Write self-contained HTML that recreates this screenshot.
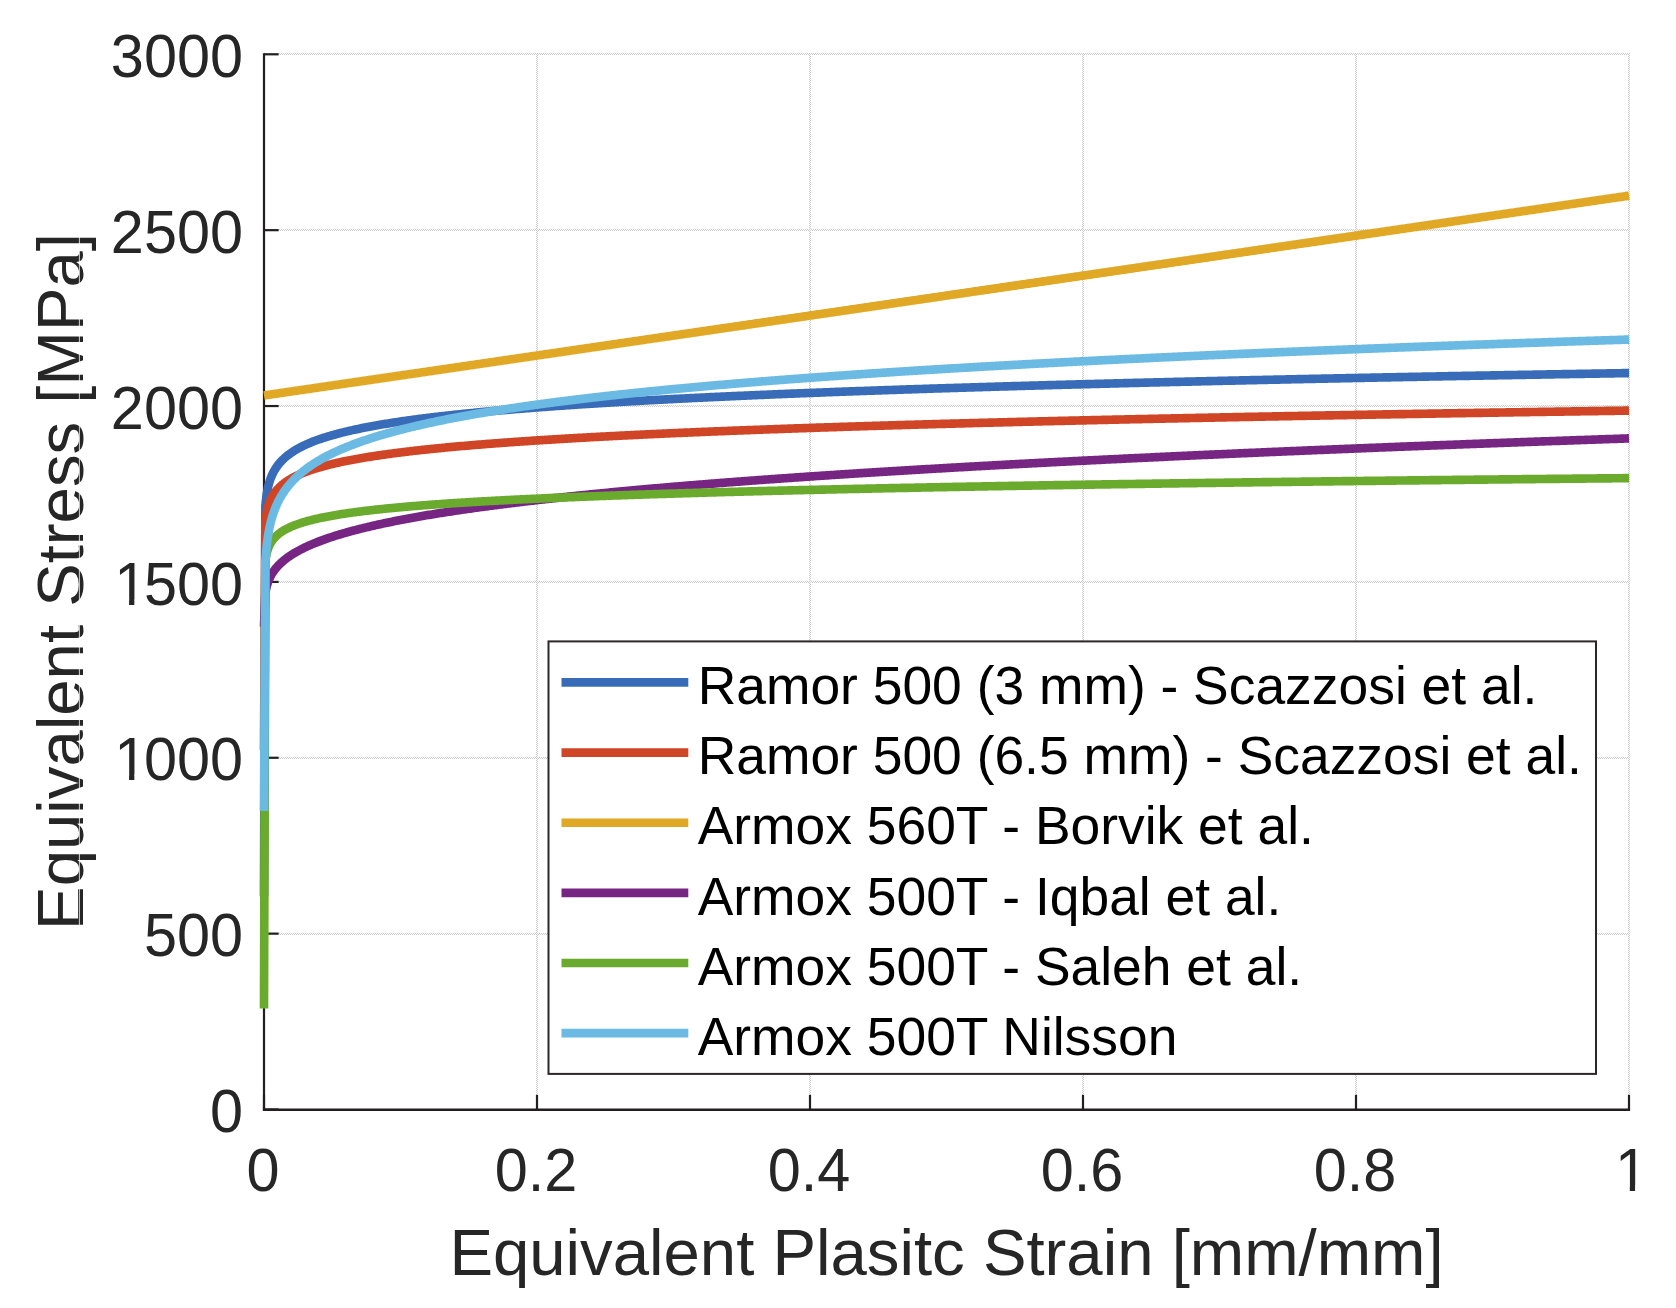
<!DOCTYPE html>
<html lang="en"><head><meta charset="utf-8"><title>Equivalent Stress vs Equivalent Plastic Strain</title>
<style>html,body{margin:0;padding:0;background:#fff;}svg{display:block;}text{font-family:"Liberation Sans",Arial,Helvetica,sans-serif;}</style></head><body>
<svg width="1676" height="1308" viewBox="0 0 1676 1308">
<rect x="0" y="0" width="1676" height="1308" fill="#ffffff"/>
<defs><clipPath id="plotclip"><rect x="255" y="40" width="1390" height="1080"/></clipPath></defs>
<defs><pattern id="dither" patternUnits="userSpaceOnUse" x="0" y="0" width="2" height="2"><rect x="0" y="0" width="1" height="1" fill="#cccccc"/><rect x="1" y="1" width="1" height="1" fill="#cccccc"/></pattern></defs>
<g fill="url(#dither)" shape-rendering="crispEdges">
<rect x="536" y="53" width="2" height="1057"/>
<rect x="809" y="53" width="2" height="1057"/>
<rect x="1082" y="53" width="2" height="1057"/>
<rect x="1355" y="53" width="2" height="1057"/>
<rect x="1628" y="53" width="2" height="1057"/>
<rect x="264" y="933" width="1366" height="2"/>
<rect x="264" y="757" width="1366" height="2"/>
<rect x="264" y="581" width="1366" height="2"/>
<rect x="264" y="405" width="1366" height="2"/>
<rect x="264" y="229" width="1366" height="2"/>
<rect x="264" y="53" width="1366" height="2"/>
</g>
<g stroke="#231f20" stroke-width="2.2" fill="none" stroke-linecap="butt">
<path d="M264.00,53.20 L264.00,1110.60"/>
<path stroke-width="2.5" d="M262.90,1109.65 L1630.10,1109.65"/>
<line x1="264.00" y1="1109.50" x2="264.00" y2="1094.85"/>
<line x1="537.00" y1="1109.50" x2="537.00" y2="1094.85"/>
<line x1="810.00" y1="1109.50" x2="810.00" y2="1094.85"/>
<line x1="1083.00" y1="1109.50" x2="1083.00" y2="1094.85"/>
<line x1="1356.00" y1="1109.50" x2="1356.00" y2="1094.85"/>
<line x1="1629.00" y1="1109.50" x2="1629.00" y2="1094.85"/>
<line x1="264.00" y1="1109.50" x2="278.65" y2="1109.50"/>
<line x1="264.00" y1="933.63" x2="278.65" y2="933.63"/>
<line x1="264.00" y1="757.77" x2="278.65" y2="757.77"/>
<line x1="264.00" y1="581.90" x2="278.65" y2="581.90"/>
<line x1="264.00" y1="406.03" x2="278.65" y2="406.03"/>
<line x1="264.00" y1="230.17" x2="278.65" y2="230.17"/>
<line x1="264.00" y1="54.30" x2="278.65" y2="54.30"/>
</g>
<g clip-path="url(#plotclip)" fill="none" stroke-width="8.65" stroke-linejoin="round" stroke-linecap="butt">
<path stroke="#386cb8" d="M264.00,896.35 L265.37,505.42 L266.73,493.81 L268.10,486.86 L269.46,481.86 L270.82,477.94 L272.19,474.71 L273.56,471.95 L274.92,469.56 L276.29,467.43 L277.65,465.52 L279.01,463.78 L280.38,462.19 L281.75,460.72 L283.11,459.35 L284.48,458.08 L285.84,456.88 L287.20,455.76 L288.57,454.69 L289.94,453.68 L291.30,452.73 L292.67,451.81 L294.03,450.94 L295.39,450.10 L296.76,449.30 L298.12,448.53 L299.49,447.79 L300.86,447.07 L302.22,446.38 L303.58,445.71 L304.95,445.07 L306.31,444.44 L307.68,443.84 L309.05,443.25 L310.41,442.68 L311.77,442.12 L313.14,441.58 L314.50,441.05 L315.87,440.54 L317.24,440.04 L318.60,439.55 L319.97,439.08 L321.33,438.61 L322.69,438.16 L324.06,437.71 L325.43,437.28 L326.79,436.85 L328.15,436.43 L329.52,436.03 L330.88,435.62 L332.25,435.23 L333.62,434.85 L334.98,434.47 L336.35,434.10 L337.71,433.73 L339.07,433.37 L340.44,433.02 L341.81,432.67 L343.17,432.33 L344.54,432.00 L345.90,431.67 L347.26,431.34 L348.63,431.03 L350.00,430.71 L351.36,430.40 L352.73,430.10 L354.09,429.80 L355.46,429.50 L356.82,429.21 L358.19,428.92 L359.55,428.64 L360.92,428.36 L362.28,428.08 L363.64,427.81 L365.01,427.54 L366.38,427.27 L367.74,427.01 L369.11,426.75 L370.47,426.49 L371.84,426.24 L373.20,425.99 L374.56,425.75 L375.93,425.50 L377.30,425.26 L378.66,425.02 L380.02,424.79 L381.39,424.55 L382.75,424.32 L384.12,424.10 L385.49,423.87 L386.85,423.65 L388.22,423.43 L389.58,423.21 L390.94,422.99 L392.31,422.78 L393.68,422.57 L395.04,422.36 L396.40,422.15 L397.77,421.95 L399.13,421.74 L400.50,421.54 L401.87,421.34 L403.23,421.14 L404.60,420.95 L405.96,420.75 L407.33,420.56 L408.69,420.37 L410.06,420.18 L411.42,420.00 L412.78,419.81 L414.15,419.63 L415.51,419.44 L416.88,419.26 L418.25,419.08 L419.61,418.91 L420.98,418.73 L422.34,418.56 L423.71,418.38 L425.07,418.21 L426.44,418.04 L427.80,417.87 L429.16,417.70 L430.53,417.54 L431.89,417.37 L433.26,417.21 L434.62,417.05 L435.99,416.89 L437.36,416.73 L438.72,416.57 L440.09,416.41 L441.45,416.25 L442.81,416.10 L444.18,415.94 L445.55,415.79 L446.91,415.64 L448.27,415.49 L449.64,415.34 L451.00,415.19 L452.37,415.04 L453.74,414.89 L455.10,414.75 L456.47,414.60 L457.83,414.46 L459.20,414.32 L460.56,414.18 L461.93,414.04 L463.29,413.90 L464.65,413.76 L466.02,413.62 L467.38,413.48 L468.75,413.34 L470.12,413.21 L471.48,413.07 L472.85,412.94 L474.21,412.81 L475.57,412.68 L476.94,412.54 L478.31,412.41 L479.67,412.28 L481.03,412.16 L482.40,412.03 L483.76,411.90 L485.13,411.77 L486.50,411.65 L487.86,411.52 L489.23,411.40 L490.59,411.27 L491.96,411.15 L493.32,411.03 L494.69,410.91 L496.05,410.79 L497.42,410.67 L498.78,410.55 L500.14,410.43 L501.51,410.31 L502.88,410.19 L504.24,410.07 L505.61,409.96 L506.97,409.84 L508.33,409.73 L509.70,409.61 L511.06,409.50 L512.43,409.39 L513.79,409.27 L515.16,409.16 L516.52,409.05 L517.89,408.94 L519.25,408.83 L520.62,408.72 L521.99,408.61 L523.35,408.50 L524.72,408.39 L526.08,408.29 L527.44,408.18 L528.81,408.07 L530.17,407.97 L531.54,407.86 L532.90,407.76 L534.27,407.65 L535.63,407.55 L537.00,407.44 L538.37,407.34 L539.73,407.24 L541.10,407.14 L542.46,407.03 L543.83,406.93 L545.19,406.83 L546.56,406.73 L547.92,406.63 L549.29,406.53 L550.65,406.44 L552.01,406.34 L553.38,406.24 L554.75,406.14 L556.11,406.05 L557.48,405.95 L558.84,405.85 L560.20,405.76 L561.57,405.66 L562.93,405.57 L564.30,405.47 L565.66,405.38 L567.03,405.29 L568.39,405.19 L569.76,405.10 L571.12,405.01 L572.49,404.91 L573.86,404.82 L575.22,404.73 L576.59,404.64 L577.95,404.55 L579.32,404.46 L580.68,404.37 L582.05,404.28 L583.41,404.19 L584.78,404.10 L586.14,404.02 L587.50,403.93 L588.87,403.84 L590.24,403.75 L591.60,403.67 L592.96,403.58 L594.33,403.49 L595.69,403.41 L597.06,403.32 L598.42,403.24 L599.79,403.15 L601.15,403.07 L602.52,402.98 L603.88,402.90 L605.25,402.82 L606.62,402.73 L607.98,402.65 L609.35,402.57 L610.71,402.49 L612.08,402.40 L613.44,402.32 L614.81,402.24 L616.17,402.16 L617.54,402.08 L618.90,402.00 L620.26,401.92 L621.63,401.84 L623.00,401.76 L624.36,401.68 L625.73,401.60 L627.09,401.52 L628.46,401.44 L629.82,401.37 L631.18,401.29 L632.55,401.21 L633.91,401.13 L635.28,401.06 L636.64,400.98 L638.01,400.90 L639.38,400.83 L640.74,400.75 L642.11,400.68 L643.47,400.60 L644.84,400.53 L646.20,400.45 L647.57,400.38 L648.93,400.30 L650.30,400.23 L651.66,400.15 L653.03,400.08 L654.39,400.01 L655.76,399.93 L657.12,399.86 L658.49,399.79 L659.85,399.72 L661.21,399.64 L662.58,399.57 L663.94,399.50 L665.31,399.43 L666.67,399.36 L668.04,399.29 L669.40,399.22 L670.77,399.14 L672.13,399.07 L673.50,399.00 L674.87,398.93 L676.23,398.86 L677.60,398.80 L678.96,398.73 L680.33,398.66 L681.69,398.59 L683.06,398.52 L684.42,398.45 L685.78,398.38 L687.15,398.32 L688.51,398.25 L689.88,398.18 L691.25,398.11 L692.61,398.05 L693.98,397.98 L695.34,397.91 L696.70,397.85 L698.07,397.78 L699.43,397.71 L700.80,397.65 L702.16,397.58 L703.53,397.52 L704.89,397.45 L706.26,397.39 L707.62,397.32 L708.99,397.26 L710.36,397.19 L711.72,397.13 L713.09,397.06 L714.45,397.00 L715.82,396.94 L717.18,396.87 L718.55,396.81 L719.91,396.75 L721.28,396.68 L722.64,396.62 L724.01,396.56 L725.37,396.49 L726.74,396.43 L728.10,396.37 L729.47,396.31 L730.83,396.25 L732.20,396.18 L733.56,396.12 L734.92,396.06 L736.29,396.00 L737.65,395.94 L739.02,395.88 L740.38,395.82 L741.75,395.76 L743.12,395.70 L744.48,395.64 L745.85,395.58 L747.21,395.52 L748.58,395.46 L749.94,395.40 L751.30,395.34 L752.67,395.28 L754.03,395.22 L755.40,395.16 L756.76,395.10 L758.13,395.04 L759.50,394.99 L760.86,394.93 L762.22,394.87 L763.59,394.81 L764.95,394.75 L766.32,394.70 L767.68,394.64 L769.05,394.58 L770.41,394.52 L771.78,394.47 L773.14,394.41 L774.51,394.35 L775.88,394.30 L777.24,394.24 L778.61,394.18 L779.97,394.13 L781.34,394.07 L782.70,394.02 L784.07,393.96 L785.43,393.91 L786.79,393.85 L788.16,393.79 L789.52,393.74 L790.89,393.68 L792.25,393.63 L793.62,393.57 L794.99,393.52 L796.35,393.47 L797.72,393.41 L799.08,393.36 L800.45,393.30 L801.81,393.25 L803.18,393.20 L804.54,393.14 L805.90,393.09 L807.27,393.03 L808.63,392.98 L810.00,392.93 L811.37,392.87 L812.73,392.82 L814.10,392.77 L815.46,392.72 L816.83,392.66 L818.19,392.61 L819.56,392.56 L820.92,392.51 L822.29,392.45 L823.65,392.40 L825.02,392.35 L826.38,392.30 L827.75,392.25 L829.11,392.20 L830.48,392.15 L831.84,392.09 L833.21,392.04 L834.57,391.99 L835.93,391.94 L837.30,391.89 L838.66,391.84 L840.03,391.79 L841.39,391.74 L842.76,391.69 L844.12,391.64 L845.49,391.59 L846.86,391.54 L848.22,391.49 L849.59,391.44 L850.95,391.39 L852.31,391.34 L853.68,391.29 L855.04,391.24 L856.41,391.19 L857.77,391.14 L859.14,391.09 L860.50,391.04 L861.87,391.00 L863.24,390.95 L864.60,390.90 L865.97,390.85 L867.33,390.80 L868.70,390.75 L870.06,390.71 L871.42,390.66 L872.79,390.61 L874.15,390.56 L875.52,390.51 L876.88,390.47 L878.25,390.42 L879.62,390.37 L880.98,390.32 L882.35,390.28 L883.71,390.23 L885.08,390.18 L886.44,390.14 L887.81,390.09 L889.17,390.04 L890.54,390.00 L891.90,389.95 L893.26,389.90 L894.63,389.86 L896.00,389.81 L897.36,389.76 L898.73,389.72 L900.09,389.67 L901.46,389.63 L902.82,389.58 L904.19,389.54 L905.55,389.49 L906.92,389.44 L908.28,389.40 L909.65,389.35 L911.01,389.31 L912.38,389.26 L913.74,389.22 L915.11,389.17 L916.47,389.13 L917.84,389.08 L919.20,389.04 L920.56,388.99 L921.93,388.95 L923.29,388.91 L924.66,388.86 L926.02,388.82 L927.39,388.77 L928.75,388.73 L930.12,388.68 L931.49,388.64 L932.85,388.60 L934.22,388.55 L935.58,388.51 L936.94,388.47 L938.31,388.42 L939.67,388.38 L941.04,388.34 L942.40,388.29 L943.77,388.25 L945.13,388.21 L946.50,388.16 L947.87,388.12 L949.23,388.08 L950.60,388.04 L951.96,387.99 L953.33,387.95 L954.69,387.91 L956.06,387.87 L957.42,387.82 L958.78,387.78 L960.15,387.74 L961.51,387.70 L962.88,387.65 L964.25,387.61 L965.61,387.57 L966.98,387.53 L968.34,387.49 L969.71,387.45 L971.07,387.40 L972.44,387.36 L973.80,387.32 L975.17,387.28 L976.53,387.24 L977.89,387.20 L979.26,387.16 L980.62,387.12 L981.99,387.08 L983.36,387.03 L984.72,386.99 L986.09,386.95 L987.45,386.91 L988.82,386.87 L990.18,386.83 L991.55,386.79 L992.91,386.75 L994.28,386.71 L995.64,386.67 L997.00,386.63 L998.37,386.59 L999.74,386.55 L1001.10,386.51 L1002.47,386.47 L1003.83,386.43 L1005.20,386.39 L1006.56,386.35 L1007.93,386.31 L1009.29,386.27 L1010.66,386.23 L1012.02,386.19 L1013.39,386.15 L1014.75,386.12 L1016.12,386.08 L1017.48,386.04 L1018.85,386.00 L1020.21,385.96 L1021.58,385.92 L1022.94,385.88 L1024.31,385.84 L1025.67,385.80 L1027.04,385.77 L1028.40,385.73 L1029.77,385.69 L1031.13,385.65 L1032.50,385.61 L1033.86,385.57 L1035.22,385.54 L1036.59,385.50 L1037.95,385.46 L1039.32,385.42 L1040.68,385.38 L1042.05,385.35 L1043.41,385.31 L1044.78,385.27 L1046.14,385.23 L1047.51,385.19 L1048.88,385.16 L1050.24,385.12 L1051.61,385.08 L1052.97,385.04 L1054.34,385.01 L1055.70,384.97 L1057.07,384.93 L1058.43,384.90 L1059.80,384.86 L1061.16,384.82 L1062.53,384.78 L1063.89,384.75 L1065.26,384.71 L1066.62,384.67 L1067.98,384.64 L1069.35,384.60 L1070.71,384.56 L1072.08,384.53 L1073.44,384.49 L1074.81,384.46 L1076.17,384.42 L1077.54,384.38 L1078.90,384.35 L1080.27,384.31 L1081.63,384.27 L1083.00,384.24 L1084.37,384.20 L1085.73,384.17 L1087.10,384.13 L1088.46,384.09 L1089.82,384.06 L1091.19,384.02 L1092.55,383.99 L1093.92,383.95 L1095.28,383.92 L1096.65,383.88 L1098.01,383.85 L1099.38,383.81 L1100.74,383.77 L1102.11,383.74 L1103.47,383.70 L1104.84,383.67 L1106.20,383.63 L1107.57,383.60 L1108.93,383.56 L1110.30,383.53 L1111.66,383.49 L1113.03,383.46 L1114.39,383.42 L1115.76,383.39 L1117.12,383.35 L1118.49,383.32 L1119.86,383.29 L1121.22,383.25 L1122.59,383.22 L1123.95,383.18 L1125.32,383.15 L1126.68,383.11 L1128.05,383.08 L1129.41,383.05 L1130.78,383.01 L1132.14,382.98 L1133.51,382.94 L1134.87,382.91 L1136.24,382.87 L1137.60,382.84 L1138.97,382.81 L1140.33,382.77 L1141.70,382.74 L1143.06,382.71 L1144.43,382.67 L1145.79,382.64 L1147.15,382.61 L1148.52,382.57 L1149.88,382.54 L1151.25,382.50 L1152.62,382.47 L1153.98,382.44 L1155.35,382.40 L1156.71,382.37 L1158.08,382.34 L1159.44,382.31 L1160.81,382.27 L1162.17,382.24 L1163.54,382.21 L1164.90,382.17 L1166.27,382.14 L1167.63,382.11 L1168.99,382.08 L1170.36,382.04 L1171.72,382.01 L1173.09,381.98 L1174.45,381.94 L1175.82,381.91 L1177.18,381.88 L1178.55,381.85 L1179.91,381.81 L1181.28,381.78 L1182.64,381.75 L1184.01,381.72 L1185.38,381.69 L1186.74,381.65 L1188.11,381.62 L1189.47,381.59 L1190.84,381.56 L1192.20,381.53 L1193.57,381.49 L1194.93,381.46 L1196.30,381.43 L1197.66,381.40 L1199.03,381.37 L1200.39,381.33 L1201.76,381.30 L1203.12,381.27 L1204.49,381.24 L1205.85,381.21 L1207.22,381.18 L1208.58,381.14 L1209.95,381.11 L1211.31,381.08 L1212.68,381.05 L1214.04,381.02 L1215.41,380.99 L1216.77,380.96 L1218.14,380.93 L1219.50,380.89 L1220.87,380.86 L1222.23,380.83 L1223.60,380.80 L1224.96,380.77 L1226.32,380.74 L1227.69,380.71 L1229.05,380.68 L1230.42,380.65 L1231.78,380.62 L1233.15,380.59 L1234.51,380.56 L1235.88,380.52 L1237.24,380.49 L1238.61,380.46 L1239.97,380.43 L1241.34,380.40 L1242.70,380.37 L1244.07,380.34 L1245.43,380.31 L1246.80,380.28 L1248.16,380.25 L1249.53,380.22 L1250.89,380.19 L1252.26,380.16 L1253.62,380.13 L1254.99,380.10 L1256.36,380.07 L1257.72,380.04 L1259.09,380.01 L1260.45,379.98 L1261.82,379.95 L1263.18,379.92 L1264.55,379.89 L1265.91,379.86 L1267.28,379.83 L1268.64,379.80 L1270.01,379.77 L1271.37,379.74 L1272.74,379.71 L1274.10,379.68 L1275.47,379.66 L1276.83,379.63 L1278.19,379.60 L1279.56,379.57 L1280.92,379.54 L1282.29,379.51 L1283.65,379.48 L1285.02,379.45 L1286.38,379.42 L1287.75,379.39 L1289.12,379.36 L1290.48,379.33 L1291.85,379.30 L1293.21,379.28 L1294.58,379.25 L1295.94,379.22 L1297.31,379.19 L1298.67,379.16 L1300.04,379.13 L1301.40,379.10 L1302.77,379.07 L1304.13,379.05 L1305.50,379.02 L1306.86,378.99 L1308.22,378.96 L1309.59,378.93 L1310.95,378.90 L1312.32,378.87 L1313.68,378.85 L1315.05,378.82 L1316.41,378.79 L1317.78,378.76 L1319.14,378.73 L1320.51,378.70 L1321.88,378.68 L1323.24,378.65 L1324.61,378.62 L1325.97,378.59 L1327.34,378.56 L1328.70,378.54 L1330.07,378.51 L1331.43,378.48 L1332.80,378.45 L1334.16,378.42 L1335.53,378.40 L1336.89,378.37 L1338.26,378.34 L1339.62,378.31 L1340.99,378.28 L1342.35,378.26 L1343.72,378.23 L1345.08,378.20 L1346.45,378.17 L1347.81,378.15 L1349.17,378.12 L1350.54,378.09 L1351.90,378.06 L1353.27,378.04 L1354.63,378.01 L1356.00,377.98 L1357.37,377.95 L1358.73,377.93 L1360.10,377.90 L1361.46,377.87 L1362.83,377.85 L1364.19,377.82 L1365.56,377.79 L1366.92,377.76 L1368.29,377.74 L1369.65,377.71 L1371.02,377.68 L1372.38,377.66 L1373.75,377.63 L1375.11,377.60 L1376.48,377.57 L1377.84,377.55 L1379.21,377.52 L1380.57,377.49 L1381.94,377.47 L1383.30,377.44 L1384.67,377.41 L1386.03,377.39 L1387.39,377.36 L1388.76,377.33 L1390.12,377.31 L1391.49,377.28 L1392.86,377.25 L1394.22,377.23 L1395.59,377.20 L1396.95,377.18 L1398.32,377.15 L1399.68,377.12 L1401.05,377.10 L1402.41,377.07 L1403.77,377.04 L1405.14,377.02 L1406.50,376.99 L1407.87,376.97 L1409.23,376.94 L1410.60,376.91 L1411.96,376.89 L1413.33,376.86 L1414.69,376.83 L1416.06,376.81 L1417.42,376.78 L1418.79,376.76 L1420.15,376.73 L1421.52,376.70 L1422.88,376.68 L1424.25,376.65 L1425.62,376.63 L1426.98,376.60 L1428.35,376.58 L1429.71,376.55 L1431.08,376.52 L1432.44,376.50 L1433.81,376.47 L1435.17,376.45 L1436.54,376.42 L1437.90,376.40 L1439.26,376.37 L1440.63,376.35 L1441.99,376.32 L1443.36,376.29 L1444.72,376.27 L1446.09,376.24 L1447.45,376.22 L1448.82,376.19 L1450.18,376.17 L1451.55,376.14 L1452.91,376.12 L1454.28,376.09 L1455.64,376.07 L1457.01,376.04 L1458.38,376.02 L1459.74,375.99 L1461.11,375.97 L1462.47,375.94 L1463.84,375.92 L1465.20,375.89 L1466.57,375.87 L1467.93,375.84 L1469.30,375.82 L1470.66,375.79 L1472.03,375.77 L1473.39,375.74 L1474.76,375.72 L1476.12,375.69 L1477.49,375.67 L1478.85,375.64 L1480.21,375.62 L1481.58,375.59 L1482.94,375.57 L1484.31,375.54 L1485.67,375.52 L1487.04,375.50 L1488.40,375.47 L1489.77,375.45 L1491.13,375.42 L1492.50,375.40 L1493.87,375.37 L1495.23,375.35 L1496.60,375.32 L1497.96,375.30 L1499.33,375.28 L1500.69,375.25 L1502.06,375.23 L1503.42,375.20 L1504.79,375.18 L1506.15,375.15 L1507.52,375.13 L1508.88,375.11 L1510.25,375.08 L1511.61,375.06 L1512.98,375.03 L1514.34,375.01 L1515.71,374.99 L1517.07,374.96 L1518.43,374.94 L1519.80,374.91 L1521.16,374.89 L1522.53,374.87 L1523.89,374.84 L1525.26,374.82 L1526.62,374.80 L1527.99,374.77 L1529.36,374.75 L1530.72,374.72 L1532.09,374.70 L1533.45,374.68 L1534.82,374.65 L1536.18,374.63 L1537.55,374.61 L1538.91,374.58 L1540.28,374.56 L1541.64,374.53 L1543.01,374.51 L1544.37,374.49 L1545.74,374.46 L1547.10,374.44 L1548.47,374.42 L1549.83,374.39 L1551.20,374.37 L1552.56,374.35 L1553.93,374.32 L1555.29,374.30 L1556.66,374.28 L1558.02,374.25 L1559.38,374.23 L1560.75,374.21 L1562.12,374.18 L1563.48,374.16 L1564.85,374.14 L1566.21,374.12 L1567.58,374.09 L1568.94,374.07 L1570.31,374.05 L1571.67,374.02 L1573.04,374.00 L1574.40,373.98 L1575.76,373.95 L1577.13,373.93 L1578.49,373.91 L1579.86,373.89 L1581.22,373.86 L1582.59,373.84 L1583.95,373.82 L1585.32,373.79 L1586.68,373.77 L1588.05,373.75 L1589.41,373.73 L1590.78,373.70 L1592.14,373.68 L1593.51,373.66 L1594.88,373.63 L1596.24,373.61 L1597.61,373.59 L1598.97,373.57 L1600.34,373.54 L1601.70,373.52 L1603.07,373.50 L1604.43,373.48 L1605.80,373.45 L1607.16,373.43 L1608.53,373.41 L1609.89,373.39 L1611.25,373.36 L1612.62,373.34 L1613.98,373.32 L1615.35,373.30 L1616.71,373.28 L1618.08,373.25 L1619.44,373.23 L1620.81,373.21 L1622.17,373.19 L1623.54,373.16 L1624.90,373.14 L1626.27,373.12 L1627.63,373.10 L1629.00,373.08"/>
<path stroke="#d04526" d="M264.00,749.68 L265.37,521.28 L266.73,512.04 L268.10,506.47 L269.46,502.43 L270.82,499.26 L272.19,496.63 L273.56,494.39 L274.92,492.43 L276.29,490.69 L277.65,489.13 L279.01,487.70 L280.38,486.40 L281.75,485.19 L283.11,484.06 L284.48,483.01 L285.84,482.03 L287.20,481.10 L288.57,480.22 L289.94,479.38 L291.30,478.59 L292.67,477.83 L294.03,477.11 L295.39,476.41 L296.76,475.75 L298.12,475.11 L299.49,474.49 L300.86,473.90 L302.22,473.32 L303.58,472.77 L304.95,472.23 L306.31,471.71 L307.68,471.20 L309.05,470.71 L310.41,470.24 L311.77,469.77 L313.14,469.32 L314.50,468.88 L315.87,468.45 L317.24,468.03 L318.60,467.63 L319.97,467.23 L321.33,466.84 L322.69,466.46 L324.06,466.08 L325.43,465.72 L326.79,465.36 L328.15,465.01 L329.52,464.67 L330.88,464.33 L332.25,464.00 L333.62,463.68 L334.98,463.36 L336.35,463.05 L337.71,462.74 L339.07,462.44 L340.44,462.14 L341.81,461.85 L343.17,461.57 L344.54,461.28 L345.90,461.01 L347.26,460.73 L348.63,460.47 L350.00,460.20 L351.36,459.94 L352.73,459.68 L354.09,459.43 L355.46,459.18 L356.82,458.93 L358.19,458.69 L359.55,458.45 L360.92,458.21 L362.28,457.98 L363.64,457.75 L365.01,457.52 L366.38,457.30 L367.74,457.08 L369.11,456.86 L370.47,456.64 L371.84,456.43 L373.20,456.22 L374.56,456.01 L375.93,455.80 L377.30,455.60 L378.66,455.40 L380.02,455.20 L381.39,455.00 L382.75,454.81 L384.12,454.61 L385.49,454.42 L386.85,454.23 L388.22,454.05 L389.58,453.86 L390.94,453.68 L392.31,453.50 L393.68,453.32 L395.04,453.14 L396.40,452.97 L397.77,452.79 L399.13,452.62 L400.50,452.45 L401.87,452.28 L403.23,452.11 L404.60,451.95 L405.96,451.78 L407.33,451.62 L408.69,451.46 L410.06,451.30 L411.42,451.14 L412.78,450.98 L414.15,450.82 L415.51,450.67 L416.88,450.52 L418.25,450.36 L419.61,450.21 L420.98,450.06 L422.34,449.91 L423.71,449.77 L425.07,449.62 L426.44,449.48 L427.80,449.33 L429.16,449.19 L430.53,449.05 L431.89,448.91 L433.26,448.77 L434.62,448.63 L435.99,448.49 L437.36,448.36 L438.72,448.22 L440.09,448.09 L441.45,447.95 L442.81,447.82 L444.18,447.69 L445.55,447.56 L446.91,447.43 L448.27,447.30 L449.64,447.17 L451.00,447.05 L452.37,446.92 L453.74,446.80 L455.10,446.67 L456.47,446.55 L457.83,446.43 L459.20,446.30 L460.56,446.18 L461.93,446.06 L463.29,445.94 L464.65,445.83 L466.02,445.71 L467.38,445.59 L468.75,445.47 L470.12,445.36 L471.48,445.24 L472.85,445.13 L474.21,445.02 L475.57,444.90 L476.94,444.79 L478.31,444.68 L479.67,444.57 L481.03,444.46 L482.40,444.35 L483.76,444.24 L485.13,444.13 L486.50,444.02 L487.86,443.92 L489.23,443.81 L490.59,443.71 L491.96,443.60 L493.32,443.50 L494.69,443.39 L496.05,443.29 L497.42,443.19 L498.78,443.08 L500.14,442.98 L501.51,442.88 L502.88,442.78 L504.24,442.68 L505.61,442.58 L506.97,442.48 L508.33,442.38 L509.70,442.29 L511.06,442.19 L512.43,442.09 L513.79,441.99 L515.16,441.90 L516.52,441.80 L517.89,441.71 L519.25,441.61 L520.62,441.52 L521.99,441.43 L523.35,441.33 L524.72,441.24 L526.08,441.15 L527.44,441.06 L528.81,440.97 L530.17,440.87 L531.54,440.78 L532.90,440.69 L534.27,440.60 L535.63,440.52 L537.00,440.43 L538.37,440.34 L539.73,440.25 L541.10,440.16 L542.46,440.08 L543.83,439.99 L545.19,439.90 L546.56,439.82 L547.92,439.73 L549.29,439.65 L550.65,439.56 L552.01,439.48 L553.38,439.39 L554.75,439.31 L556.11,439.23 L557.48,439.15 L558.84,439.06 L560.20,438.98 L561.57,438.90 L562.93,438.82 L564.30,438.74 L565.66,438.66 L567.03,438.58 L568.39,438.50 L569.76,438.42 L571.12,438.34 L572.49,438.26 L573.86,438.18 L575.22,438.10 L576.59,438.02 L577.95,437.94 L579.32,437.87 L580.68,437.79 L582.05,437.71 L583.41,437.64 L584.78,437.56 L586.14,437.49 L587.50,437.41 L588.87,437.33 L590.24,437.26 L591.60,437.18 L592.96,437.11 L594.33,437.04 L595.69,436.96 L597.06,436.89 L598.42,436.82 L599.79,436.74 L601.15,436.67 L602.52,436.60 L603.88,436.53 L605.25,436.45 L606.62,436.38 L607.98,436.31 L609.35,436.24 L610.71,436.17 L612.08,436.10 L613.44,436.03 L614.81,435.96 L616.17,435.89 L617.54,435.82 L618.90,435.75 L620.26,435.68 L621.63,435.61 L623.00,435.54 L624.36,435.48 L625.73,435.41 L627.09,435.34 L628.46,435.27 L629.82,435.21 L631.18,435.14 L632.55,435.07 L633.91,435.01 L635.28,434.94 L636.64,434.87 L638.01,434.81 L639.38,434.74 L640.74,434.68 L642.11,434.61 L643.47,434.55 L644.84,434.48 L646.20,434.42 L647.57,434.35 L648.93,434.29 L650.30,434.23 L651.66,434.16 L653.03,434.10 L654.39,434.03 L655.76,433.97 L657.12,433.91 L658.49,433.85 L659.85,433.78 L661.21,433.72 L662.58,433.66 L663.94,433.60 L665.31,433.54 L666.67,433.47 L668.04,433.41 L669.40,433.35 L670.77,433.29 L672.13,433.23 L673.50,433.17 L674.87,433.11 L676.23,433.05 L677.60,432.99 L678.96,432.93 L680.33,432.87 L681.69,432.81 L683.06,432.75 L684.42,432.69 L685.78,432.64 L687.15,432.58 L688.51,432.52 L689.88,432.46 L691.25,432.40 L692.61,432.34 L693.98,432.29 L695.34,432.23 L696.70,432.17 L698.07,432.11 L699.43,432.06 L700.80,432.00 L702.16,431.94 L703.53,431.89 L704.89,431.83 L706.26,431.77 L707.62,431.72 L708.99,431.66 L710.36,431.61 L711.72,431.55 L713.09,431.50 L714.45,431.44 L715.82,431.39 L717.18,431.33 L718.55,431.28 L719.91,431.22 L721.28,431.17 L722.64,431.11 L724.01,431.06 L725.37,431.00 L726.74,430.95 L728.10,430.90 L729.47,430.84 L730.83,430.79 L732.20,430.74 L733.56,430.68 L734.92,430.63 L736.29,430.58 L737.65,430.52 L739.02,430.47 L740.38,430.42 L741.75,430.37 L743.12,430.32 L744.48,430.26 L745.85,430.21 L747.21,430.16 L748.58,430.11 L749.94,430.06 L751.30,430.01 L752.67,429.95 L754.03,429.90 L755.40,429.85 L756.76,429.80 L758.13,429.75 L759.50,429.70 L760.86,429.65 L762.22,429.60 L763.59,429.55 L764.95,429.50 L766.32,429.45 L767.68,429.40 L769.05,429.35 L770.41,429.30 L771.78,429.25 L773.14,429.20 L774.51,429.15 L775.88,429.11 L777.24,429.06 L778.61,429.01 L779.97,428.96 L781.34,428.91 L782.70,428.86 L784.07,428.81 L785.43,428.77 L786.79,428.72 L788.16,428.67 L789.52,428.62 L790.89,428.57 L792.25,428.53 L793.62,428.48 L794.99,428.43 L796.35,428.39 L797.72,428.34 L799.08,428.29 L800.45,428.24 L801.81,428.20 L803.18,428.15 L804.54,428.10 L805.90,428.06 L807.27,428.01 L808.63,427.97 L810.00,427.92 L811.37,427.87 L812.73,427.83 L814.10,427.78 L815.46,427.74 L816.83,427.69 L818.19,427.65 L819.56,427.60 L820.92,427.55 L822.29,427.51 L823.65,427.46 L825.02,427.42 L826.38,427.38 L827.75,427.33 L829.11,427.29 L830.48,427.24 L831.84,427.20 L833.21,427.15 L834.57,427.11 L835.93,427.06 L837.30,427.02 L838.66,426.98 L840.03,426.93 L841.39,426.89 L842.76,426.85 L844.12,426.80 L845.49,426.76 L846.86,426.72 L848.22,426.67 L849.59,426.63 L850.95,426.59 L852.31,426.54 L853.68,426.50 L855.04,426.46 L856.41,426.41 L857.77,426.37 L859.14,426.33 L860.50,426.29 L861.87,426.24 L863.24,426.20 L864.60,426.16 L865.97,426.12 L867.33,426.08 L868.70,426.03 L870.06,425.99 L871.42,425.95 L872.79,425.91 L874.15,425.87 L875.52,425.83 L876.88,425.79 L878.25,425.74 L879.62,425.70 L880.98,425.66 L882.35,425.62 L883.71,425.58 L885.08,425.54 L886.44,425.50 L887.81,425.46 L889.17,425.42 L890.54,425.38 L891.90,425.34 L893.26,425.30 L894.63,425.26 L896.00,425.22 L897.36,425.18 L898.73,425.14 L900.09,425.10 L901.46,425.06 L902.82,425.02 L904.19,424.98 L905.55,424.94 L906.92,424.90 L908.28,424.86 L909.65,424.82 L911.01,424.78 L912.38,424.74 L913.74,424.70 L915.11,424.66 L916.47,424.62 L917.84,424.59 L919.20,424.55 L920.56,424.51 L921.93,424.47 L923.29,424.43 L924.66,424.39 L926.02,424.35 L927.39,424.32 L928.75,424.28 L930.12,424.24 L931.49,424.20 L932.85,424.16 L934.22,424.12 L935.58,424.09 L936.94,424.05 L938.31,424.01 L939.67,423.97 L941.04,423.94 L942.40,423.90 L943.77,423.86 L945.13,423.82 L946.50,423.79 L947.87,423.75 L949.23,423.71 L950.60,423.67 L951.96,423.64 L953.33,423.60 L954.69,423.56 L956.06,423.53 L957.42,423.49 L958.78,423.45 L960.15,423.42 L961.51,423.38 L962.88,423.34 L964.25,423.31 L965.61,423.27 L966.98,423.23 L968.34,423.20 L969.71,423.16 L971.07,423.13 L972.44,423.09 L973.80,423.05 L975.17,423.02 L976.53,422.98 L977.89,422.95 L979.26,422.91 L980.62,422.88 L981.99,422.84 L983.36,422.80 L984.72,422.77 L986.09,422.73 L987.45,422.70 L988.82,422.66 L990.18,422.63 L991.55,422.59 L992.91,422.56 L994.28,422.52 L995.64,422.49 L997.00,422.45 L998.37,422.42 L999.74,422.38 L1001.10,422.35 L1002.47,422.31 L1003.83,422.28 L1005.20,422.24 L1006.56,422.21 L1007.93,422.18 L1009.29,422.14 L1010.66,422.11 L1012.02,422.07 L1013.39,422.04 L1014.75,422.00 L1016.12,421.97 L1017.48,421.94 L1018.85,421.90 L1020.21,421.87 L1021.58,421.84 L1022.94,421.80 L1024.31,421.77 L1025.67,421.73 L1027.04,421.70 L1028.40,421.67 L1029.77,421.63 L1031.13,421.60 L1032.50,421.57 L1033.86,421.53 L1035.22,421.50 L1036.59,421.47 L1037.95,421.43 L1039.32,421.40 L1040.68,421.37 L1042.05,421.33 L1043.41,421.30 L1044.78,421.27 L1046.14,421.24 L1047.51,421.20 L1048.88,421.17 L1050.24,421.14 L1051.61,421.11 L1052.97,421.07 L1054.34,421.04 L1055.70,421.01 L1057.07,420.98 L1058.43,420.94 L1059.80,420.91 L1061.16,420.88 L1062.53,420.85 L1063.89,420.81 L1065.26,420.78 L1066.62,420.75 L1067.98,420.72 L1069.35,420.69 L1070.71,420.65 L1072.08,420.62 L1073.44,420.59 L1074.81,420.56 L1076.17,420.53 L1077.54,420.50 L1078.90,420.46 L1080.27,420.43 L1081.63,420.40 L1083.00,420.37 L1084.37,420.34 L1085.73,420.31 L1087.10,420.28 L1088.46,420.24 L1089.82,420.21 L1091.19,420.18 L1092.55,420.15 L1093.92,420.12 L1095.28,420.09 L1096.65,420.06 L1098.01,420.03 L1099.38,420.00 L1100.74,419.97 L1102.11,419.94 L1103.47,419.90 L1104.84,419.87 L1106.20,419.84 L1107.57,419.81 L1108.93,419.78 L1110.30,419.75 L1111.66,419.72 L1113.03,419.69 L1114.39,419.66 L1115.76,419.63 L1117.12,419.60 L1118.49,419.57 L1119.86,419.54 L1121.22,419.51 L1122.59,419.48 L1123.95,419.45 L1125.32,419.42 L1126.68,419.39 L1128.05,419.36 L1129.41,419.33 L1130.78,419.30 L1132.14,419.27 L1133.51,419.24 L1134.87,419.21 L1136.24,419.18 L1137.60,419.15 L1138.97,419.12 L1140.33,419.09 L1141.70,419.06 L1143.06,419.03 L1144.43,419.00 L1145.79,418.98 L1147.15,418.95 L1148.52,418.92 L1149.88,418.89 L1151.25,418.86 L1152.62,418.83 L1153.98,418.80 L1155.35,418.77 L1156.71,418.74 L1158.08,418.71 L1159.44,418.68 L1160.81,418.66 L1162.17,418.63 L1163.54,418.60 L1164.90,418.57 L1166.27,418.54 L1167.63,418.51 L1168.99,418.48 L1170.36,418.46 L1171.72,418.43 L1173.09,418.40 L1174.45,418.37 L1175.82,418.34 L1177.18,418.31 L1178.55,418.28 L1179.91,418.26 L1181.28,418.23 L1182.64,418.20 L1184.01,418.17 L1185.38,418.14 L1186.74,418.12 L1188.11,418.09 L1189.47,418.06 L1190.84,418.03 L1192.20,418.00 L1193.57,417.98 L1194.93,417.95 L1196.30,417.92 L1197.66,417.89 L1199.03,417.86 L1200.39,417.84 L1201.76,417.81 L1203.12,417.78 L1204.49,417.75 L1205.85,417.73 L1207.22,417.70 L1208.58,417.67 L1209.95,417.64 L1211.31,417.62 L1212.68,417.59 L1214.04,417.56 L1215.41,417.54 L1216.77,417.51 L1218.14,417.48 L1219.50,417.45 L1220.87,417.43 L1222.23,417.40 L1223.60,417.37 L1224.96,417.35 L1226.32,417.32 L1227.69,417.29 L1229.05,417.26 L1230.42,417.24 L1231.78,417.21 L1233.15,417.18 L1234.51,417.16 L1235.88,417.13 L1237.24,417.10 L1238.61,417.08 L1239.97,417.05 L1241.34,417.02 L1242.70,417.00 L1244.07,416.97 L1245.43,416.94 L1246.80,416.92 L1248.16,416.89 L1249.53,416.86 L1250.89,416.84 L1252.26,416.81 L1253.62,416.79 L1254.99,416.76 L1256.36,416.73 L1257.72,416.71 L1259.09,416.68 L1260.45,416.66 L1261.82,416.63 L1263.18,416.60 L1264.55,416.58 L1265.91,416.55 L1267.28,416.52 L1268.64,416.50 L1270.01,416.47 L1271.37,416.45 L1272.74,416.42 L1274.10,416.40 L1275.47,416.37 L1276.83,416.34 L1278.19,416.32 L1279.56,416.29 L1280.92,416.27 L1282.29,416.24 L1283.65,416.22 L1285.02,416.19 L1286.38,416.17 L1287.75,416.14 L1289.12,416.11 L1290.48,416.09 L1291.85,416.06 L1293.21,416.04 L1294.58,416.01 L1295.94,415.99 L1297.31,415.96 L1298.67,415.94 L1300.04,415.91 L1301.40,415.89 L1302.77,415.86 L1304.13,415.84 L1305.50,415.81 L1306.86,415.79 L1308.22,415.76 L1309.59,415.74 L1310.95,415.71 L1312.32,415.69 L1313.68,415.66 L1315.05,415.64 L1316.41,415.61 L1317.78,415.59 L1319.14,415.56 L1320.51,415.54 L1321.88,415.51 L1323.24,415.49 L1324.61,415.46 L1325.97,415.44 L1327.34,415.42 L1328.70,415.39 L1330.07,415.37 L1331.43,415.34 L1332.80,415.32 L1334.16,415.29 L1335.53,415.27 L1336.89,415.24 L1338.26,415.22 L1339.62,415.20 L1340.99,415.17 L1342.35,415.15 L1343.72,415.12 L1345.08,415.10 L1346.45,415.07 L1347.81,415.05 L1349.17,415.03 L1350.54,415.00 L1351.90,414.98 L1353.27,414.95 L1354.63,414.93 L1356.00,414.91 L1357.37,414.88 L1358.73,414.86 L1360.10,414.83 L1361.46,414.81 L1362.83,414.79 L1364.19,414.76 L1365.56,414.74 L1366.92,414.72 L1368.29,414.69 L1369.65,414.67 L1371.02,414.64 L1372.38,414.62 L1373.75,414.60 L1375.11,414.57 L1376.48,414.55 L1377.84,414.53 L1379.21,414.50 L1380.57,414.48 L1381.94,414.46 L1383.30,414.43 L1384.67,414.41 L1386.03,414.39 L1387.39,414.36 L1388.76,414.34 L1390.12,414.32 L1391.49,414.29 L1392.86,414.27 L1394.22,414.25 L1395.59,414.22 L1396.95,414.20 L1398.32,414.18 L1399.68,414.15 L1401.05,414.13 L1402.41,414.11 L1403.77,414.09 L1405.14,414.06 L1406.50,414.04 L1407.87,414.02 L1409.23,413.99 L1410.60,413.97 L1411.96,413.95 L1413.33,413.92 L1414.69,413.90 L1416.06,413.88 L1417.42,413.86 L1418.79,413.83 L1420.15,413.81 L1421.52,413.79 L1422.88,413.77 L1424.25,413.74 L1425.62,413.72 L1426.98,413.70 L1428.35,413.68 L1429.71,413.65 L1431.08,413.63 L1432.44,413.61 L1433.81,413.59 L1435.17,413.56 L1436.54,413.54 L1437.90,413.52 L1439.26,413.50 L1440.63,413.47 L1441.99,413.45 L1443.36,413.43 L1444.72,413.41 L1446.09,413.38 L1447.45,413.36 L1448.82,413.34 L1450.18,413.32 L1451.55,413.30 L1452.91,413.27 L1454.28,413.25 L1455.64,413.23 L1457.01,413.21 L1458.38,413.19 L1459.74,413.16 L1461.11,413.14 L1462.47,413.12 L1463.84,413.10 L1465.20,413.08 L1466.57,413.05 L1467.93,413.03 L1469.30,413.01 L1470.66,412.99 L1472.03,412.97 L1473.39,412.95 L1474.76,412.92 L1476.12,412.90 L1477.49,412.88 L1478.85,412.86 L1480.21,412.84 L1481.58,412.82 L1482.94,412.79 L1484.31,412.77 L1485.67,412.75 L1487.04,412.73 L1488.40,412.71 L1489.77,412.69 L1491.13,412.66 L1492.50,412.64 L1493.87,412.62 L1495.23,412.60 L1496.60,412.58 L1497.96,412.56 L1499.33,412.54 L1500.69,412.52 L1502.06,412.49 L1503.42,412.47 L1504.79,412.45 L1506.15,412.43 L1507.52,412.41 L1508.88,412.39 L1510.25,412.37 L1511.61,412.35 L1512.98,412.32 L1514.34,412.30 L1515.71,412.28 L1517.07,412.26 L1518.43,412.24 L1519.80,412.22 L1521.16,412.20 L1522.53,412.18 L1523.89,412.16 L1525.26,412.14 L1526.62,412.11 L1527.99,412.09 L1529.36,412.07 L1530.72,412.05 L1532.09,412.03 L1533.45,412.01 L1534.82,411.99 L1536.18,411.97 L1537.55,411.95 L1538.91,411.93 L1540.28,411.91 L1541.64,411.89 L1543.01,411.87 L1544.37,411.84 L1545.74,411.82 L1547.10,411.80 L1548.47,411.78 L1549.83,411.76 L1551.20,411.74 L1552.56,411.72 L1553.93,411.70 L1555.29,411.68 L1556.66,411.66 L1558.02,411.64 L1559.38,411.62 L1560.75,411.60 L1562.12,411.58 L1563.48,411.56 L1564.85,411.54 L1566.21,411.52 L1567.58,411.50 L1568.94,411.48 L1570.31,411.46 L1571.67,411.44 L1573.04,411.42 L1574.40,411.40 L1575.76,411.38 L1577.13,411.36 L1578.49,411.34 L1579.86,411.32 L1581.22,411.30 L1582.59,411.28 L1583.95,411.26 L1585.32,411.24 L1586.68,411.22 L1588.05,411.20 L1589.41,411.18 L1590.78,411.16 L1592.14,411.14 L1593.51,411.12 L1594.88,411.10 L1596.24,411.08 L1597.61,411.06 L1598.97,411.04 L1600.34,411.02 L1601.70,411.00 L1603.07,410.98 L1604.43,410.96 L1605.80,410.94 L1607.16,410.92 L1608.53,410.90 L1609.89,410.88 L1611.25,410.86 L1612.62,410.84 L1613.98,410.82 L1615.35,410.80 L1616.71,410.78 L1618.08,410.76 L1619.44,410.74 L1620.81,410.72 L1622.17,410.70 L1623.54,410.68 L1624.90,410.66 L1626.27,410.64 L1627.63,410.63 L1629.00,410.61"/>
<path stroke="#e0a824" d="M264.00,395.48 L265.37,395.28 L266.73,395.08 L268.10,394.88 L269.46,394.68 L270.82,394.48 L272.19,394.28 L273.56,394.08 L274.92,393.88 L276.29,393.68 L277.65,393.48 L279.01,393.28 L280.38,393.08 L281.75,392.88 L283.11,392.68 L284.48,392.48 L285.84,392.28 L287.20,392.08 L288.57,391.89 L289.94,391.69 L291.30,391.49 L292.67,391.29 L294.03,391.09 L295.39,390.89 L296.76,390.69 L298.12,390.49 L299.49,390.29 L300.86,390.09 L302.22,389.89 L303.58,389.69 L304.95,389.49 L306.31,389.29 L307.68,389.09 L309.05,388.89 L310.41,388.69 L311.77,388.49 L313.14,388.29 L314.50,388.09 L315.87,387.89 L317.24,387.69 L318.60,387.49 L319.97,387.29 L321.33,387.09 L322.69,386.89 L324.06,386.69 L325.43,386.49 L326.79,386.29 L328.15,386.09 L329.52,385.89 L330.88,385.69 L332.25,385.49 L333.62,385.29 L334.98,385.09 L336.35,384.89 L337.71,384.69 L339.07,384.49 L340.44,384.29 L341.81,384.09 L343.17,383.89 L344.54,383.69 L345.90,383.49 L347.26,383.29 L348.63,383.09 L350.00,382.89 L351.36,382.70 L352.73,382.50 L354.09,382.30 L355.46,382.10 L356.82,381.90 L358.19,381.70 L359.55,381.50 L360.92,381.30 L362.28,381.10 L363.64,380.90 L365.01,380.70 L366.38,380.50 L367.74,380.30 L369.11,380.10 L370.47,379.90 L371.84,379.70 L373.20,379.50 L374.56,379.30 L375.93,379.10 L377.30,378.90 L378.66,378.70 L380.02,378.50 L381.39,378.30 L382.75,378.10 L384.12,377.90 L385.49,377.70 L386.85,377.50 L388.22,377.30 L389.58,377.10 L390.94,376.90 L392.31,376.70 L393.68,376.50 L395.04,376.30 L396.40,376.10 L397.77,375.90 L399.13,375.70 L400.50,375.50 L401.87,375.30 L403.23,375.10 L404.60,374.90 L405.96,374.70 L407.33,374.50 L408.69,374.30 L410.06,374.10 L411.42,373.90 L412.78,373.70 L414.15,373.51 L415.51,373.31 L416.88,373.11 L418.25,372.91 L419.61,372.71 L420.98,372.51 L422.34,372.31 L423.71,372.11 L425.07,371.91 L426.44,371.71 L427.80,371.51 L429.16,371.31 L430.53,371.11 L431.89,370.91 L433.26,370.71 L434.62,370.51 L435.99,370.31 L437.36,370.11 L438.72,369.91 L440.09,369.71 L441.45,369.51 L442.81,369.31 L444.18,369.11 L445.55,368.91 L446.91,368.71 L448.27,368.51 L449.64,368.31 L451.00,368.11 L452.37,367.91 L453.74,367.71 L455.10,367.51 L456.47,367.31 L457.83,367.11 L459.20,366.91 L460.56,366.71 L461.93,366.51 L463.29,366.31 L464.65,366.11 L466.02,365.91 L467.38,365.71 L468.75,365.51 L470.12,365.31 L471.48,365.11 L472.85,364.91 L474.21,364.71 L475.57,364.51 L476.94,364.31 L478.31,364.12 L479.67,363.92 L481.03,363.72 L482.40,363.52 L483.76,363.32 L485.13,363.12 L486.50,362.92 L487.86,362.72 L489.23,362.52 L490.59,362.32 L491.96,362.12 L493.32,361.92 L494.69,361.72 L496.05,361.52 L497.42,361.32 L498.78,361.12 L500.14,360.92 L501.51,360.72 L502.88,360.52 L504.24,360.32 L505.61,360.12 L506.97,359.92 L508.33,359.72 L509.70,359.52 L511.06,359.32 L512.43,359.12 L513.79,358.92 L515.16,358.72 L516.52,358.52 L517.89,358.32 L519.25,358.12 L520.62,357.92 L521.99,357.72 L523.35,357.52 L524.72,357.32 L526.08,357.12 L527.44,356.92 L528.81,356.72 L530.17,356.52 L531.54,356.32 L532.90,356.12 L534.27,355.92 L535.63,355.72 L537.00,355.52 L538.37,355.32 L539.73,355.12 L541.10,354.93 L542.46,354.73 L543.83,354.53 L545.19,354.33 L546.56,354.13 L547.92,353.93 L549.29,353.73 L550.65,353.53 L552.01,353.33 L553.38,353.13 L554.75,352.93 L556.11,352.73 L557.48,352.53 L558.84,352.33 L560.20,352.13 L561.57,351.93 L562.93,351.73 L564.30,351.53 L565.66,351.33 L567.03,351.13 L568.39,350.93 L569.76,350.73 L571.12,350.53 L572.49,350.33 L573.86,350.13 L575.22,349.93 L576.59,349.73 L577.95,349.53 L579.32,349.33 L580.68,349.13 L582.05,348.93 L583.41,348.73 L584.78,348.53 L586.14,348.33 L587.50,348.13 L588.87,347.93 L590.24,347.73 L591.60,347.53 L592.96,347.33 L594.33,347.13 L595.69,346.93 L597.06,346.73 L598.42,346.53 L599.79,346.33 L601.15,346.13 L602.52,345.93 L603.88,345.73 L605.25,345.54 L606.62,345.34 L607.98,345.14 L609.35,344.94 L610.71,344.74 L612.08,344.54 L613.44,344.34 L614.81,344.14 L616.17,343.94 L617.54,343.74 L618.90,343.54 L620.26,343.34 L621.63,343.14 L623.00,342.94 L624.36,342.74 L625.73,342.54 L627.09,342.34 L628.46,342.14 L629.82,341.94 L631.18,341.74 L632.55,341.54 L633.91,341.34 L635.28,341.14 L636.64,340.94 L638.01,340.74 L639.38,340.54 L640.74,340.34 L642.11,340.14 L643.47,339.94 L644.84,339.74 L646.20,339.54 L647.57,339.34 L648.93,339.14 L650.30,338.94 L651.66,338.74 L653.03,338.54 L654.39,338.34 L655.76,338.14 L657.12,337.94 L658.49,337.74 L659.85,337.54 L661.21,337.34 L662.58,337.14 L663.94,336.94 L665.31,336.74 L666.67,336.54 L668.04,336.35 L669.40,336.15 L670.77,335.95 L672.13,335.75 L673.50,335.55 L674.87,335.35 L676.23,335.15 L677.60,334.95 L678.96,334.75 L680.33,334.55 L681.69,334.35 L683.06,334.15 L684.42,333.95 L685.78,333.75 L687.15,333.55 L688.51,333.35 L689.88,333.15 L691.25,332.95 L692.61,332.75 L693.98,332.55 L695.34,332.35 L696.70,332.15 L698.07,331.95 L699.43,331.75 L700.80,331.55 L702.16,331.35 L703.53,331.15 L704.89,330.95 L706.26,330.75 L707.62,330.55 L708.99,330.35 L710.36,330.15 L711.72,329.95 L713.09,329.75 L714.45,329.55 L715.82,329.35 L717.18,329.15 L718.55,328.95 L719.91,328.75 L721.28,328.55 L722.64,328.35 L724.01,328.15 L725.37,327.95 L726.74,327.75 L728.10,327.55 L729.47,327.35 L730.83,327.16 L732.20,326.96 L733.56,326.76 L734.92,326.56 L736.29,326.36 L737.65,326.16 L739.02,325.96 L740.38,325.76 L741.75,325.56 L743.12,325.36 L744.48,325.16 L745.85,324.96 L747.21,324.76 L748.58,324.56 L749.94,324.36 L751.30,324.16 L752.67,323.96 L754.03,323.76 L755.40,323.56 L756.76,323.36 L758.13,323.16 L759.50,322.96 L760.86,322.76 L762.22,322.56 L763.59,322.36 L764.95,322.16 L766.32,321.96 L767.68,321.76 L769.05,321.56 L770.41,321.36 L771.78,321.16 L773.14,320.96 L774.51,320.76 L775.88,320.56 L777.24,320.36 L778.61,320.16 L779.97,319.96 L781.34,319.76 L782.70,319.56 L784.07,319.36 L785.43,319.16 L786.79,318.96 L788.16,318.76 L789.52,318.56 L790.89,318.36 L792.25,318.16 L793.62,317.96 L794.99,317.77 L796.35,317.57 L797.72,317.37 L799.08,317.17 L800.45,316.97 L801.81,316.77 L803.18,316.57 L804.54,316.37 L805.90,316.17 L807.27,315.97 L808.63,315.77 L810.00,315.57 L811.37,315.37 L812.73,315.17 L814.10,314.97 L815.46,314.77 L816.83,314.57 L818.19,314.37 L819.56,314.17 L820.92,313.97 L822.29,313.77 L823.65,313.57 L825.02,313.37 L826.38,313.17 L827.75,312.97 L829.11,312.77 L830.48,312.57 L831.84,312.37 L833.21,312.17 L834.57,311.97 L835.93,311.77 L837.30,311.57 L838.66,311.37 L840.03,311.17 L841.39,310.97 L842.76,310.77 L844.12,310.57 L845.49,310.37 L846.86,310.17 L848.22,309.97 L849.59,309.77 L850.95,309.57 L852.31,309.37 L853.68,309.17 L855.04,308.97 L856.41,308.77 L857.77,308.58 L859.14,308.38 L860.50,308.18 L861.87,307.98 L863.24,307.78 L864.60,307.58 L865.97,307.38 L867.33,307.18 L868.70,306.98 L870.06,306.78 L871.42,306.58 L872.79,306.38 L874.15,306.18 L875.52,305.98 L876.88,305.78 L878.25,305.58 L879.62,305.38 L880.98,305.18 L882.35,304.98 L883.71,304.78 L885.08,304.58 L886.44,304.38 L887.81,304.18 L889.17,303.98 L890.54,303.78 L891.90,303.58 L893.26,303.38 L894.63,303.18 L896.00,302.98 L897.36,302.78 L898.73,302.58 L900.09,302.38 L901.46,302.18 L902.82,301.98 L904.19,301.78 L905.55,301.58 L906.92,301.38 L908.28,301.18 L909.65,300.98 L911.01,300.78 L912.38,300.58 L913.74,300.38 L915.11,300.18 L916.47,299.98 L917.84,299.78 L919.20,299.58 L920.56,299.38 L921.93,299.19 L923.29,298.99 L924.66,298.79 L926.02,298.59 L927.39,298.39 L928.75,298.19 L930.12,297.99 L931.49,297.79 L932.85,297.59 L934.22,297.39 L935.58,297.19 L936.94,296.99 L938.31,296.79 L939.67,296.59 L941.04,296.39 L942.40,296.19 L943.77,295.99 L945.13,295.79 L946.50,295.59 L947.87,295.39 L949.23,295.19 L950.60,294.99 L951.96,294.79 L953.33,294.59 L954.69,294.39 L956.06,294.19 L957.42,293.99 L958.78,293.79 L960.15,293.59 L961.51,293.39 L962.88,293.19 L964.25,292.99 L965.61,292.79 L966.98,292.59 L968.34,292.39 L969.71,292.19 L971.07,291.99 L972.44,291.79 L973.80,291.59 L975.17,291.39 L976.53,291.19 L977.89,290.99 L979.26,290.79 L980.62,290.59 L981.99,290.39 L983.36,290.19 L984.72,290.00 L986.09,289.80 L987.45,289.60 L988.82,289.40 L990.18,289.20 L991.55,289.00 L992.91,288.80 L994.28,288.60 L995.64,288.40 L997.00,288.20 L998.37,288.00 L999.74,287.80 L1001.10,287.60 L1002.47,287.40 L1003.83,287.20 L1005.20,287.00 L1006.56,286.80 L1007.93,286.60 L1009.29,286.40 L1010.66,286.20 L1012.02,286.00 L1013.39,285.80 L1014.75,285.60 L1016.12,285.40 L1017.48,285.20 L1018.85,285.00 L1020.21,284.80 L1021.58,284.60 L1022.94,284.40 L1024.31,284.20 L1025.67,284.00 L1027.04,283.80 L1028.40,283.60 L1029.77,283.40 L1031.13,283.20 L1032.50,283.00 L1033.86,282.80 L1035.22,282.60 L1036.59,282.40 L1037.95,282.20 L1039.32,282.00 L1040.68,281.80 L1042.05,281.60 L1043.41,281.40 L1044.78,281.20 L1046.14,281.00 L1047.51,280.81 L1048.88,280.61 L1050.24,280.41 L1051.61,280.21 L1052.97,280.01 L1054.34,279.81 L1055.70,279.61 L1057.07,279.41 L1058.43,279.21 L1059.80,279.01 L1061.16,278.81 L1062.53,278.61 L1063.89,278.41 L1065.26,278.21 L1066.62,278.01 L1067.98,277.81 L1069.35,277.61 L1070.71,277.41 L1072.08,277.21 L1073.44,277.01 L1074.81,276.81 L1076.17,276.61 L1077.54,276.41 L1078.90,276.21 L1080.27,276.01 L1081.63,275.81 L1083.00,275.61 L1084.37,275.41 L1085.73,275.21 L1087.10,275.01 L1088.46,274.81 L1089.82,274.61 L1091.19,274.41 L1092.55,274.21 L1093.92,274.01 L1095.28,273.81 L1096.65,273.61 L1098.01,273.41 L1099.38,273.21 L1100.74,273.01 L1102.11,272.81 L1103.47,272.61 L1104.84,272.41 L1106.20,272.21 L1107.57,272.01 L1108.93,271.81 L1110.30,271.61 L1111.66,271.42 L1113.03,271.22 L1114.39,271.02 L1115.76,270.82 L1117.12,270.62 L1118.49,270.42 L1119.86,270.22 L1121.22,270.02 L1122.59,269.82 L1123.95,269.62 L1125.32,269.42 L1126.68,269.22 L1128.05,269.02 L1129.41,268.82 L1130.78,268.62 L1132.14,268.42 L1133.51,268.22 L1134.87,268.02 L1136.24,267.82 L1137.60,267.62 L1138.97,267.42 L1140.33,267.22 L1141.70,267.02 L1143.06,266.82 L1144.43,266.62 L1145.79,266.42 L1147.15,266.22 L1148.52,266.02 L1149.88,265.82 L1151.25,265.62 L1152.62,265.42 L1153.98,265.22 L1155.35,265.02 L1156.71,264.82 L1158.08,264.62 L1159.44,264.42 L1160.81,264.22 L1162.17,264.02 L1163.54,263.82 L1164.90,263.62 L1166.27,263.42 L1167.63,263.22 L1168.99,263.02 L1170.36,262.82 L1171.72,262.62 L1173.09,262.42 L1174.45,262.23 L1175.82,262.03 L1177.18,261.83 L1178.55,261.63 L1179.91,261.43 L1181.28,261.23 L1182.64,261.03 L1184.01,260.83 L1185.38,260.63 L1186.74,260.43 L1188.11,260.23 L1189.47,260.03 L1190.84,259.83 L1192.20,259.63 L1193.57,259.43 L1194.93,259.23 L1196.30,259.03 L1197.66,258.83 L1199.03,258.63 L1200.39,258.43 L1201.76,258.23 L1203.12,258.03 L1204.49,257.83 L1205.85,257.63 L1207.22,257.43 L1208.58,257.23 L1209.95,257.03 L1211.31,256.83 L1212.68,256.63 L1214.04,256.43 L1215.41,256.23 L1216.77,256.03 L1218.14,255.83 L1219.50,255.63 L1220.87,255.43 L1222.23,255.23 L1223.60,255.03 L1224.96,254.83 L1226.32,254.63 L1227.69,254.43 L1229.05,254.23 L1230.42,254.03 L1231.78,253.83 L1233.15,253.63 L1234.51,253.43 L1235.88,253.23 L1237.24,253.03 L1238.61,252.84 L1239.97,252.64 L1241.34,252.44 L1242.70,252.24 L1244.07,252.04 L1245.43,251.84 L1246.80,251.64 L1248.16,251.44 L1249.53,251.24 L1250.89,251.04 L1252.26,250.84 L1253.62,250.64 L1254.99,250.44 L1256.36,250.24 L1257.72,250.04 L1259.09,249.84 L1260.45,249.64 L1261.82,249.44 L1263.18,249.24 L1264.55,249.04 L1265.91,248.84 L1267.28,248.64 L1268.64,248.44 L1270.01,248.24 L1271.37,248.04 L1272.74,247.84 L1274.10,247.64 L1275.47,247.44 L1276.83,247.24 L1278.19,247.04 L1279.56,246.84 L1280.92,246.64 L1282.29,246.44 L1283.65,246.24 L1285.02,246.04 L1286.38,245.84 L1287.75,245.64 L1289.12,245.44 L1290.48,245.24 L1291.85,245.04 L1293.21,244.84 L1294.58,244.64 L1295.94,244.44 L1297.31,244.24 L1298.67,244.04 L1300.04,243.84 L1301.40,243.65 L1302.77,243.45 L1304.13,243.25 L1305.50,243.05 L1306.86,242.85 L1308.22,242.65 L1309.59,242.45 L1310.95,242.25 L1312.32,242.05 L1313.68,241.85 L1315.05,241.65 L1316.41,241.45 L1317.78,241.25 L1319.14,241.05 L1320.51,240.85 L1321.88,240.65 L1323.24,240.45 L1324.61,240.25 L1325.97,240.05 L1327.34,239.85 L1328.70,239.65 L1330.07,239.45 L1331.43,239.25 L1332.80,239.05 L1334.16,238.85 L1335.53,238.65 L1336.89,238.45 L1338.26,238.25 L1339.62,238.05 L1340.99,237.85 L1342.35,237.65 L1343.72,237.45 L1345.08,237.25 L1346.45,237.05 L1347.81,236.85 L1349.17,236.65 L1350.54,236.45 L1351.90,236.25 L1353.27,236.05 L1354.63,235.85 L1356.00,235.65 L1357.37,235.45 L1358.73,235.25 L1360.10,235.05 L1361.46,234.85 L1362.83,234.65 L1364.19,234.45 L1365.56,234.26 L1366.92,234.06 L1368.29,233.86 L1369.65,233.66 L1371.02,233.46 L1372.38,233.26 L1373.75,233.06 L1375.11,232.86 L1376.48,232.66 L1377.84,232.46 L1379.21,232.26 L1380.57,232.06 L1381.94,231.86 L1383.30,231.66 L1384.67,231.46 L1386.03,231.26 L1387.39,231.06 L1388.76,230.86 L1390.12,230.66 L1391.49,230.46 L1392.86,230.26 L1394.22,230.06 L1395.59,229.86 L1396.95,229.66 L1398.32,229.46 L1399.68,229.26 L1401.05,229.06 L1402.41,228.86 L1403.77,228.66 L1405.14,228.46 L1406.50,228.26 L1407.87,228.06 L1409.23,227.86 L1410.60,227.66 L1411.96,227.46 L1413.33,227.26 L1414.69,227.06 L1416.06,226.86 L1417.42,226.66 L1418.79,226.46 L1420.15,226.26 L1421.52,226.06 L1422.88,225.86 L1424.25,225.66 L1425.62,225.46 L1426.98,225.26 L1428.35,225.07 L1429.71,224.87 L1431.08,224.67 L1432.44,224.47 L1433.81,224.27 L1435.17,224.07 L1436.54,223.87 L1437.90,223.67 L1439.26,223.47 L1440.63,223.27 L1441.99,223.07 L1443.36,222.87 L1444.72,222.67 L1446.09,222.47 L1447.45,222.27 L1448.82,222.07 L1450.18,221.87 L1451.55,221.67 L1452.91,221.47 L1454.28,221.27 L1455.64,221.07 L1457.01,220.87 L1458.38,220.67 L1459.74,220.47 L1461.11,220.27 L1462.47,220.07 L1463.84,219.87 L1465.20,219.67 L1466.57,219.47 L1467.93,219.27 L1469.30,219.07 L1470.66,218.87 L1472.03,218.67 L1473.39,218.47 L1474.76,218.27 L1476.12,218.07 L1477.49,217.87 L1478.85,217.67 L1480.21,217.47 L1481.58,217.27 L1482.94,217.07 L1484.31,216.87 L1485.67,216.67 L1487.04,216.47 L1488.40,216.27 L1489.77,216.07 L1491.13,215.88 L1492.50,215.68 L1493.87,215.48 L1495.23,215.28 L1496.60,215.08 L1497.96,214.88 L1499.33,214.68 L1500.69,214.48 L1502.06,214.28 L1503.42,214.08 L1504.79,213.88 L1506.15,213.68 L1507.52,213.48 L1508.88,213.28 L1510.25,213.08 L1511.61,212.88 L1512.98,212.68 L1514.34,212.48 L1515.71,212.28 L1517.07,212.08 L1518.43,211.88 L1519.80,211.68 L1521.16,211.48 L1522.53,211.28 L1523.89,211.08 L1525.26,210.88 L1526.62,210.68 L1527.99,210.48 L1529.36,210.28 L1530.72,210.08 L1532.09,209.88 L1533.45,209.68 L1534.82,209.48 L1536.18,209.28 L1537.55,209.08 L1538.91,208.88 L1540.28,208.68 L1541.64,208.48 L1543.01,208.28 L1544.37,208.08 L1545.74,207.88 L1547.10,207.68 L1548.47,207.48 L1549.83,207.28 L1551.20,207.08 L1552.56,206.88 L1553.93,206.68 L1555.29,206.49 L1556.66,206.29 L1558.02,206.09 L1559.38,205.89 L1560.75,205.69 L1562.12,205.49 L1563.48,205.29 L1564.85,205.09 L1566.21,204.89 L1567.58,204.69 L1568.94,204.49 L1570.31,204.29 L1571.67,204.09 L1573.04,203.89 L1574.40,203.69 L1575.76,203.49 L1577.13,203.29 L1578.49,203.09 L1579.86,202.89 L1581.22,202.69 L1582.59,202.49 L1583.95,202.29 L1585.32,202.09 L1586.68,201.89 L1588.05,201.69 L1589.41,201.49 L1590.78,201.29 L1592.14,201.09 L1593.51,200.89 L1594.88,200.69 L1596.24,200.49 L1597.61,200.29 L1598.97,200.09 L1600.34,199.89 L1601.70,199.69 L1603.07,199.49 L1604.43,199.29 L1605.80,199.09 L1607.16,198.89 L1608.53,198.69 L1609.89,198.49 L1611.25,198.29 L1612.62,198.09 L1613.98,197.89 L1615.35,197.69 L1616.71,197.49 L1618.08,197.30 L1619.44,197.10 L1620.81,196.90 L1622.17,196.70 L1623.54,196.50 L1624.90,196.30 L1626.27,196.10 L1627.63,195.90 L1629.00,195.70"/>
<path stroke="#762682" d="M264.00,626.75 L265.37,592.48 L266.73,586.09 L268.10,581.81 L269.46,578.51 L270.82,575.78 L272.19,573.43 L273.56,571.37 L274.92,569.51 L276.29,567.82 L277.65,566.27 L279.01,564.83 L280.38,563.49 L281.75,562.23 L283.11,561.04 L284.48,559.91 L285.84,558.84 L287.20,557.81 L288.57,556.83 L289.94,555.90 L291.30,554.99 L292.67,554.12 L294.03,553.29 L295.39,552.48 L296.76,551.69 L298.12,550.93 L299.49,550.20 L300.86,549.48 L302.22,548.78 L303.58,548.11 L304.95,547.44 L306.31,546.80 L307.68,546.17 L309.05,545.56 L310.41,544.96 L311.77,544.37 L313.14,543.80 L314.50,543.23 L315.87,542.68 L317.24,542.14 L318.60,541.61 L319.97,541.09 L321.33,540.58 L322.69,540.08 L324.06,539.59 L325.43,539.10 L326.79,538.63 L328.15,538.16 L329.52,537.70 L330.88,537.24 L332.25,536.79 L333.62,536.35 L334.98,535.92 L336.35,535.49 L337.71,535.07 L339.07,534.65 L340.44,534.24 L341.81,533.84 L343.17,533.44 L344.54,533.05 L345.90,532.66 L347.26,532.27 L348.63,531.89 L350.00,531.52 L351.36,531.15 L352.73,530.78 L354.09,530.42 L355.46,530.06 L356.82,529.71 L358.19,529.36 L359.55,529.01 L360.92,528.67 L362.28,528.33 L363.64,527.99 L365.01,527.66 L366.38,527.33 L367.74,527.01 L369.11,526.68 L370.47,526.36 L371.84,526.05 L373.20,525.74 L374.56,525.43 L375.93,525.12 L377.30,524.81 L378.66,524.51 L380.02,524.21 L381.39,523.92 L382.75,523.62 L384.12,523.33 L385.49,523.04 L386.85,522.76 L388.22,522.47 L389.58,522.19 L390.94,521.91 L392.31,521.64 L393.68,521.36 L395.04,521.09 L396.40,520.82 L397.77,520.55 L399.13,520.28 L400.50,520.02 L401.87,519.76 L403.23,519.50 L404.60,519.24 L405.96,518.98 L407.33,518.73 L408.69,518.47 L410.06,518.22 L411.42,517.97 L412.78,517.73 L414.15,517.48 L415.51,517.24 L416.88,516.99 L418.25,516.75 L419.61,516.51 L420.98,516.28 L422.34,516.04 L423.71,515.80 L425.07,515.57 L426.44,515.34 L427.80,515.11 L429.16,514.88 L430.53,514.65 L431.89,514.43 L433.26,514.20 L434.62,513.98 L435.99,513.76 L437.36,513.54 L438.72,513.32 L440.09,513.10 L441.45,512.88 L442.81,512.67 L444.18,512.45 L445.55,512.24 L446.91,512.03 L448.27,511.82 L449.64,511.61 L451.00,511.40 L452.37,511.19 L453.74,510.99 L455.10,510.78 L456.47,510.58 L457.83,510.38 L459.20,510.17 L460.56,509.97 L461.93,509.77 L463.29,509.58 L464.65,509.38 L466.02,509.18 L467.38,508.99 L468.75,508.79 L470.12,508.60 L471.48,508.41 L472.85,508.21 L474.21,508.02 L475.57,507.83 L476.94,507.64 L478.31,507.46 L479.67,507.27 L481.03,507.08 L482.40,506.90 L483.76,506.71 L485.13,506.53 L486.50,506.35 L487.86,506.17 L489.23,505.99 L490.59,505.80 L491.96,505.63 L493.32,505.45 L494.69,505.27 L496.05,505.09 L497.42,504.92 L498.78,504.74 L500.14,504.57 L501.51,504.39 L502.88,504.22 L504.24,504.05 L505.61,503.88 L506.97,503.70 L508.33,503.53 L509.70,503.36 L511.06,503.20 L512.43,503.03 L513.79,502.86 L515.16,502.69 L516.52,502.53 L517.89,502.36 L519.25,502.20 L520.62,502.03 L521.99,501.87 L523.35,501.71 L524.72,501.55 L526.08,501.38 L527.44,501.22 L528.81,501.06 L530.17,500.90 L531.54,500.75 L532.90,500.59 L534.27,500.43 L535.63,500.27 L537.00,500.12 L538.37,499.96 L539.73,499.80 L541.10,499.65 L542.46,499.50 L543.83,499.34 L545.19,499.19 L546.56,499.04 L547.92,498.88 L549.29,498.73 L550.65,498.58 L552.01,498.43 L553.38,498.28 L554.75,498.13 L556.11,497.98 L557.48,497.84 L558.84,497.69 L560.20,497.54 L561.57,497.39 L562.93,497.25 L564.30,497.10 L565.66,496.96 L567.03,496.81 L568.39,496.67 L569.76,496.53 L571.12,496.38 L572.49,496.24 L573.86,496.10 L575.22,495.96 L576.59,495.81 L577.95,495.67 L579.32,495.53 L580.68,495.39 L582.05,495.25 L583.41,495.11 L584.78,494.98 L586.14,494.84 L587.50,494.70 L588.87,494.56 L590.24,494.43 L591.60,494.29 L592.96,494.15 L594.33,494.02 L595.69,493.88 L597.06,493.75 L598.42,493.61 L599.79,493.48 L601.15,493.35 L602.52,493.21 L603.88,493.08 L605.25,492.95 L606.62,492.82 L607.98,492.69 L609.35,492.56 L610.71,492.42 L612.08,492.29 L613.44,492.16 L614.81,492.03 L616.17,491.91 L617.54,491.78 L618.90,491.65 L620.26,491.52 L621.63,491.39 L623.00,491.27 L624.36,491.14 L625.73,491.01 L627.09,490.89 L628.46,490.76 L629.82,490.63 L631.18,490.51 L632.55,490.38 L633.91,490.26 L635.28,490.14 L636.64,490.01 L638.01,489.89 L639.38,489.77 L640.74,489.64 L642.11,489.52 L643.47,489.40 L644.84,489.28 L646.20,489.16 L647.57,489.03 L648.93,488.91 L650.30,488.79 L651.66,488.67 L653.03,488.55 L654.39,488.43 L655.76,488.32 L657.12,488.20 L658.49,488.08 L659.85,487.96 L661.21,487.84 L662.58,487.72 L663.94,487.61 L665.31,487.49 L666.67,487.37 L668.04,487.26 L669.40,487.14 L670.77,487.02 L672.13,486.91 L673.50,486.79 L674.87,486.68 L676.23,486.56 L677.60,486.45 L678.96,486.34 L680.33,486.22 L681.69,486.11 L683.06,486.00 L684.42,485.88 L685.78,485.77 L687.15,485.66 L688.51,485.55 L689.88,485.43 L691.25,485.32 L692.61,485.21 L693.98,485.10 L695.34,484.99 L696.70,484.88 L698.07,484.77 L699.43,484.66 L700.80,484.55 L702.16,484.44 L703.53,484.33 L704.89,484.22 L706.26,484.11 L707.62,484.00 L708.99,483.89 L710.36,483.79 L711.72,483.68 L713.09,483.57 L714.45,483.46 L715.82,483.36 L717.18,483.25 L718.55,483.14 L719.91,483.04 L721.28,482.93 L722.64,482.83 L724.01,482.72 L725.37,482.62 L726.74,482.51 L728.10,482.41 L729.47,482.30 L730.83,482.20 L732.20,482.09 L733.56,481.99 L734.92,481.88 L736.29,481.78 L737.65,481.68 L739.02,481.57 L740.38,481.47 L741.75,481.37 L743.12,481.27 L744.48,481.16 L745.85,481.06 L747.21,480.96 L748.58,480.86 L749.94,480.76 L751.30,480.66 L752.67,480.56 L754.03,480.46 L755.40,480.36 L756.76,480.26 L758.13,480.16 L759.50,480.06 L760.86,479.96 L762.22,479.86 L763.59,479.76 L764.95,479.66 L766.32,479.56 L767.68,479.46 L769.05,479.36 L770.41,479.26 L771.78,479.17 L773.14,479.07 L774.51,478.97 L775.88,478.87 L777.24,478.78 L778.61,478.68 L779.97,478.58 L781.34,478.49 L782.70,478.39 L784.07,478.29 L785.43,478.20 L786.79,478.10 L788.16,478.01 L789.52,477.91 L790.89,477.82 L792.25,477.72 L793.62,477.63 L794.99,477.53 L796.35,477.44 L797.72,477.34 L799.08,477.25 L800.45,477.15 L801.81,477.06 L803.18,476.97 L804.54,476.87 L805.90,476.78 L807.27,476.69 L808.63,476.59 L810.00,476.50 L811.37,476.41 L812.73,476.32 L814.10,476.22 L815.46,476.13 L816.83,476.04 L818.19,475.95 L819.56,475.86 L820.92,475.76 L822.29,475.67 L823.65,475.58 L825.02,475.49 L826.38,475.40 L827.75,475.31 L829.11,475.22 L830.48,475.13 L831.84,475.04 L833.21,474.95 L834.57,474.86 L835.93,474.77 L837.30,474.68 L838.66,474.59 L840.03,474.50 L841.39,474.41 L842.76,474.33 L844.12,474.24 L845.49,474.15 L846.86,474.06 L848.22,473.97 L849.59,473.88 L850.95,473.80 L852.31,473.71 L853.68,473.62 L855.04,473.53 L856.41,473.45 L857.77,473.36 L859.14,473.27 L860.50,473.19 L861.87,473.10 L863.24,473.01 L864.60,472.93 L865.97,472.84 L867.33,472.75 L868.70,472.67 L870.06,472.58 L871.42,472.50 L872.79,472.41 L874.15,472.33 L875.52,472.24 L876.88,472.16 L878.25,472.07 L879.62,471.99 L880.98,471.90 L882.35,471.82 L883.71,471.73 L885.08,471.65 L886.44,471.56 L887.81,471.48 L889.17,471.40 L890.54,471.31 L891.90,471.23 L893.26,471.15 L894.63,471.06 L896.00,470.98 L897.36,470.90 L898.73,470.81 L900.09,470.73 L901.46,470.65 L902.82,470.57 L904.19,470.48 L905.55,470.40 L906.92,470.32 L908.28,470.24 L909.65,470.16 L911.01,470.08 L912.38,469.99 L913.74,469.91 L915.11,469.83 L916.47,469.75 L917.84,469.67 L919.20,469.59 L920.56,469.51 L921.93,469.43 L923.29,469.35 L924.66,469.27 L926.02,469.19 L927.39,469.11 L928.75,469.03 L930.12,468.95 L931.49,468.87 L932.85,468.79 L934.22,468.71 L935.58,468.63 L936.94,468.55 L938.31,468.47 L939.67,468.39 L941.04,468.31 L942.40,468.23 L943.77,468.15 L945.13,468.08 L946.50,468.00 L947.87,467.92 L949.23,467.84 L950.60,467.76 L951.96,467.69 L953.33,467.61 L954.69,467.53 L956.06,467.45 L957.42,467.37 L958.78,467.30 L960.15,467.22 L961.51,467.14 L962.88,467.07 L964.25,466.99 L965.61,466.91 L966.98,466.84 L968.34,466.76 L969.71,466.68 L971.07,466.61 L972.44,466.53 L973.80,466.45 L975.17,466.38 L976.53,466.30 L977.89,466.23 L979.26,466.15 L980.62,466.08 L981.99,466.00 L983.36,465.92 L984.72,465.85 L986.09,465.77 L987.45,465.70 L988.82,465.62 L990.18,465.55 L991.55,465.47 L992.91,465.40 L994.28,465.33 L995.64,465.25 L997.00,465.18 L998.37,465.10 L999.74,465.03 L1001.10,464.95 L1002.47,464.88 L1003.83,464.81 L1005.20,464.73 L1006.56,464.66 L1007.93,464.59 L1009.29,464.51 L1010.66,464.44 L1012.02,464.37 L1013.39,464.29 L1014.75,464.22 L1016.12,464.15 L1017.48,464.08 L1018.85,464.00 L1020.21,463.93 L1021.58,463.86 L1022.94,463.79 L1024.31,463.71 L1025.67,463.64 L1027.04,463.57 L1028.40,463.50 L1029.77,463.42 L1031.13,463.35 L1032.50,463.28 L1033.86,463.21 L1035.22,463.14 L1036.59,463.07 L1037.95,463.00 L1039.32,462.92 L1040.68,462.85 L1042.05,462.78 L1043.41,462.71 L1044.78,462.64 L1046.14,462.57 L1047.51,462.50 L1048.88,462.43 L1050.24,462.36 L1051.61,462.29 L1052.97,462.22 L1054.34,462.15 L1055.70,462.08 L1057.07,462.01 L1058.43,461.94 L1059.80,461.87 L1061.16,461.80 L1062.53,461.73 L1063.89,461.66 L1065.26,461.59 L1066.62,461.52 L1067.98,461.45 L1069.35,461.38 L1070.71,461.31 L1072.08,461.24 L1073.44,461.17 L1074.81,461.11 L1076.17,461.04 L1077.54,460.97 L1078.90,460.90 L1080.27,460.83 L1081.63,460.76 L1083.00,460.69 L1084.37,460.63 L1085.73,460.56 L1087.10,460.49 L1088.46,460.42 L1089.82,460.35 L1091.19,460.29 L1092.55,460.22 L1093.92,460.15 L1095.28,460.08 L1096.65,460.02 L1098.01,459.95 L1099.38,459.88 L1100.74,459.81 L1102.11,459.75 L1103.47,459.68 L1104.84,459.61 L1106.20,459.55 L1107.57,459.48 L1108.93,459.41 L1110.30,459.35 L1111.66,459.28 L1113.03,459.21 L1114.39,459.15 L1115.76,459.08 L1117.12,459.01 L1118.49,458.95 L1119.86,458.88 L1121.22,458.82 L1122.59,458.75 L1123.95,458.68 L1125.32,458.62 L1126.68,458.55 L1128.05,458.49 L1129.41,458.42 L1130.78,458.36 L1132.14,458.29 L1133.51,458.22 L1134.87,458.16 L1136.24,458.09 L1137.60,458.03 L1138.97,457.96 L1140.33,457.90 L1141.70,457.83 L1143.06,457.77 L1144.43,457.71 L1145.79,457.64 L1147.15,457.58 L1148.52,457.51 L1149.88,457.45 L1151.25,457.38 L1152.62,457.32 L1153.98,457.25 L1155.35,457.19 L1156.71,457.13 L1158.08,457.06 L1159.44,457.00 L1160.81,456.93 L1162.17,456.87 L1163.54,456.81 L1164.90,456.74 L1166.27,456.68 L1167.63,456.62 L1168.99,456.55 L1170.36,456.49 L1171.72,456.43 L1173.09,456.36 L1174.45,456.30 L1175.82,456.24 L1177.18,456.17 L1178.55,456.11 L1179.91,456.05 L1181.28,455.99 L1182.64,455.92 L1184.01,455.86 L1185.38,455.80 L1186.74,455.74 L1188.11,455.67 L1189.47,455.61 L1190.84,455.55 L1192.20,455.49 L1193.57,455.43 L1194.93,455.36 L1196.30,455.30 L1197.66,455.24 L1199.03,455.18 L1200.39,455.12 L1201.76,455.05 L1203.12,454.99 L1204.49,454.93 L1205.85,454.87 L1207.22,454.81 L1208.58,454.75 L1209.95,454.69 L1211.31,454.62 L1212.68,454.56 L1214.04,454.50 L1215.41,454.44 L1216.77,454.38 L1218.14,454.32 L1219.50,454.26 L1220.87,454.20 L1222.23,454.14 L1223.60,454.08 L1224.96,454.02 L1226.32,453.95 L1227.69,453.89 L1229.05,453.83 L1230.42,453.77 L1231.78,453.71 L1233.15,453.65 L1234.51,453.59 L1235.88,453.53 L1237.24,453.47 L1238.61,453.41 L1239.97,453.35 L1241.34,453.29 L1242.70,453.23 L1244.07,453.17 L1245.43,453.11 L1246.80,453.06 L1248.16,453.00 L1249.53,452.94 L1250.89,452.88 L1252.26,452.82 L1253.62,452.76 L1254.99,452.70 L1256.36,452.64 L1257.72,452.58 L1259.09,452.52 L1260.45,452.46 L1261.82,452.40 L1263.18,452.35 L1264.55,452.29 L1265.91,452.23 L1267.28,452.17 L1268.64,452.11 L1270.01,452.05 L1271.37,451.99 L1272.74,451.94 L1274.10,451.88 L1275.47,451.82 L1276.83,451.76 L1278.19,451.70 L1279.56,451.64 L1280.92,451.59 L1282.29,451.53 L1283.65,451.47 L1285.02,451.41 L1286.38,451.35 L1287.75,451.30 L1289.12,451.24 L1290.48,451.18 L1291.85,451.12 L1293.21,451.07 L1294.58,451.01 L1295.94,450.95 L1297.31,450.89 L1298.67,450.84 L1300.04,450.78 L1301.40,450.72 L1302.77,450.67 L1304.13,450.61 L1305.50,450.55 L1306.86,450.49 L1308.22,450.44 L1309.59,450.38 L1310.95,450.32 L1312.32,450.27 L1313.68,450.21 L1315.05,450.15 L1316.41,450.10 L1317.78,450.04 L1319.14,449.98 L1320.51,449.93 L1321.88,449.87 L1323.24,449.82 L1324.61,449.76 L1325.97,449.70 L1327.34,449.65 L1328.70,449.59 L1330.07,449.54 L1331.43,449.48 L1332.80,449.42 L1334.16,449.37 L1335.53,449.31 L1336.89,449.26 L1338.26,449.20 L1339.62,449.14 L1340.99,449.09 L1342.35,449.03 L1343.72,448.98 L1345.08,448.92 L1346.45,448.87 L1347.81,448.81 L1349.17,448.76 L1350.54,448.70 L1351.90,448.65 L1353.27,448.59 L1354.63,448.54 L1356.00,448.48 L1357.37,448.43 L1358.73,448.37 L1360.10,448.32 L1361.46,448.26 L1362.83,448.21 L1364.19,448.15 L1365.56,448.10 L1366.92,448.04 L1368.29,447.99 L1369.65,447.93 L1371.02,447.88 L1372.38,447.83 L1373.75,447.77 L1375.11,447.72 L1376.48,447.66 L1377.84,447.61 L1379.21,447.55 L1380.57,447.50 L1381.94,447.45 L1383.30,447.39 L1384.67,447.34 L1386.03,447.28 L1387.39,447.23 L1388.76,447.18 L1390.12,447.12 L1391.49,447.07 L1392.86,447.02 L1394.22,446.96 L1395.59,446.91 L1396.95,446.85 L1398.32,446.80 L1399.68,446.75 L1401.05,446.69 L1402.41,446.64 L1403.77,446.59 L1405.14,446.54 L1406.50,446.48 L1407.87,446.43 L1409.23,446.38 L1410.60,446.32 L1411.96,446.27 L1413.33,446.22 L1414.69,446.16 L1416.06,446.11 L1417.42,446.06 L1418.79,446.01 L1420.15,445.95 L1421.52,445.90 L1422.88,445.85 L1424.25,445.80 L1425.62,445.74 L1426.98,445.69 L1428.35,445.64 L1429.71,445.59 L1431.08,445.53 L1432.44,445.48 L1433.81,445.43 L1435.17,445.38 L1436.54,445.32 L1437.90,445.27 L1439.26,445.22 L1440.63,445.17 L1441.99,445.12 L1443.36,445.06 L1444.72,445.01 L1446.09,444.96 L1447.45,444.91 L1448.82,444.86 L1450.18,444.81 L1451.55,444.75 L1452.91,444.70 L1454.28,444.65 L1455.64,444.60 L1457.01,444.55 L1458.38,444.50 L1459.74,444.45 L1461.11,444.39 L1462.47,444.34 L1463.84,444.29 L1465.20,444.24 L1466.57,444.19 L1467.93,444.14 L1469.30,444.09 L1470.66,444.04 L1472.03,443.98 L1473.39,443.93 L1474.76,443.88 L1476.12,443.83 L1477.49,443.78 L1478.85,443.73 L1480.21,443.68 L1481.58,443.63 L1482.94,443.58 L1484.31,443.53 L1485.67,443.48 L1487.04,443.43 L1488.40,443.38 L1489.77,443.33 L1491.13,443.28 L1492.50,443.23 L1493.87,443.18 L1495.23,443.12 L1496.60,443.07 L1497.96,443.02 L1499.33,442.97 L1500.69,442.92 L1502.06,442.87 L1503.42,442.82 L1504.79,442.77 L1506.15,442.72 L1507.52,442.67 L1508.88,442.62 L1510.25,442.58 L1511.61,442.53 L1512.98,442.48 L1514.34,442.43 L1515.71,442.38 L1517.07,442.33 L1518.43,442.28 L1519.80,442.23 L1521.16,442.18 L1522.53,442.13 L1523.89,442.08 L1525.26,442.03 L1526.62,441.98 L1527.99,441.93 L1529.36,441.88 L1530.72,441.83 L1532.09,441.78 L1533.45,441.73 L1534.82,441.69 L1536.18,441.64 L1537.55,441.59 L1538.91,441.54 L1540.28,441.49 L1541.64,441.44 L1543.01,441.39 L1544.37,441.34 L1545.74,441.29 L1547.10,441.25 L1548.47,441.20 L1549.83,441.15 L1551.20,441.10 L1552.56,441.05 L1553.93,441.00 L1555.29,440.95 L1556.66,440.91 L1558.02,440.86 L1559.38,440.81 L1560.75,440.76 L1562.12,440.71 L1563.48,440.66 L1564.85,440.62 L1566.21,440.57 L1567.58,440.52 L1568.94,440.47 L1570.31,440.42 L1571.67,440.38 L1573.04,440.33 L1574.40,440.28 L1575.76,440.23 L1577.13,440.18 L1578.49,440.14 L1579.86,440.09 L1581.22,440.04 L1582.59,439.99 L1583.95,439.95 L1585.32,439.90 L1586.68,439.85 L1588.05,439.80 L1589.41,439.76 L1590.78,439.71 L1592.14,439.66 L1593.51,439.61 L1594.88,439.57 L1596.24,439.52 L1597.61,439.47 L1598.97,439.42 L1600.34,439.38 L1601.70,439.33 L1603.07,439.28 L1604.43,439.23 L1605.80,439.19 L1607.16,439.14 L1608.53,439.09 L1609.89,439.05 L1611.25,439.00 L1612.62,438.95 L1613.98,438.91 L1615.35,438.86 L1616.71,438.81 L1618.08,438.77 L1619.44,438.72 L1620.81,438.67 L1622.17,438.63 L1623.54,438.58 L1624.90,438.53 L1626.27,438.49 L1627.63,438.44 L1629.00,438.39"/>
<path stroke="#6aab2d" d="M264.00,1008.55 L265.37,560.72 L266.73,553.05 L268.10,548.50 L269.46,545.25 L270.82,542.71 L272.19,540.62 L273.56,538.85 L274.92,537.31 L276.29,535.95 L277.65,534.73 L279.01,533.62 L280.38,532.61 L281.75,531.68 L283.11,530.81 L284.48,530.00 L285.84,529.24 L287.20,528.53 L288.57,527.86 L289.94,527.22 L291.30,526.62 L292.67,526.04 L294.03,525.49 L295.39,524.96 L296.76,524.46 L298.12,523.97 L299.49,523.51 L300.86,523.06 L302.22,522.63 L303.58,522.21 L304.95,521.80 L306.31,521.41 L307.68,521.03 L309.05,520.67 L310.41,520.31 L311.77,519.96 L313.14,519.63 L314.50,519.30 L315.87,518.98 L317.24,518.67 L318.60,518.36 L319.97,518.06 L321.33,517.78 L322.69,517.49 L324.06,517.22 L325.43,516.94 L326.79,516.68 L328.15,516.42 L329.52,516.17 L330.88,515.92 L332.25,515.67 L333.62,515.44 L334.98,515.20 L336.35,514.97 L337.71,514.74 L339.07,514.52 L340.44,514.30 L341.81,514.09 L343.17,513.88 L344.54,513.67 L345.90,513.47 L347.26,513.27 L348.63,513.07 L350.00,512.88 L351.36,512.68 L352.73,512.50 L354.09,512.31 L355.46,512.13 L356.82,511.95 L358.19,511.77 L359.55,511.59 L360.92,511.42 L362.28,511.25 L363.64,511.08 L365.01,510.92 L366.38,510.75 L367.74,510.59 L369.11,510.43 L370.47,510.28 L371.84,510.12 L373.20,509.97 L374.56,509.81 L375.93,509.66 L377.30,509.52 L378.66,509.37 L380.02,509.22 L381.39,509.08 L382.75,508.94 L384.12,508.80 L385.49,508.66 L386.85,508.53 L388.22,508.39 L389.58,508.26 L390.94,508.12 L392.31,507.99 L393.68,507.86 L395.04,507.73 L396.40,507.61 L397.77,507.48 L399.13,507.36 L400.50,507.23 L401.87,507.11 L403.23,506.99 L404.60,506.87 L405.96,506.75 L407.33,506.63 L408.69,506.52 L410.06,506.40 L411.42,506.29 L412.78,506.17 L414.15,506.06 L415.51,505.95 L416.88,505.84 L418.25,505.73 L419.61,505.62 L420.98,505.51 L422.34,505.41 L423.71,505.30 L425.07,505.20 L426.44,505.09 L427.80,504.99 L429.16,504.89 L430.53,504.78 L431.89,504.68 L433.26,504.58 L434.62,504.48 L435.99,504.39 L437.36,504.29 L438.72,504.19 L440.09,504.10 L441.45,504.00 L442.81,503.91 L444.18,503.81 L445.55,503.72 L446.91,503.63 L448.27,503.53 L449.64,503.44 L451.00,503.35 L452.37,503.26 L453.74,503.17 L455.10,503.08 L456.47,502.99 L457.83,502.91 L459.20,502.82 L460.56,502.73 L461.93,502.65 L463.29,502.56 L464.65,502.48 L466.02,502.39 L467.38,502.31 L468.75,502.23 L470.12,502.15 L471.48,502.06 L472.85,501.98 L474.21,501.90 L475.57,501.82 L476.94,501.74 L478.31,501.66 L479.67,501.58 L481.03,501.50 L482.40,501.43 L483.76,501.35 L485.13,501.27 L486.50,501.20 L487.86,501.12 L489.23,501.04 L490.59,500.97 L491.96,500.89 L493.32,500.82 L494.69,500.75 L496.05,500.67 L497.42,500.60 L498.78,500.53 L500.14,500.46 L501.51,500.38 L502.88,500.31 L504.24,500.24 L505.61,500.17 L506.97,500.10 L508.33,500.03 L509.70,499.96 L511.06,499.89 L512.43,499.82 L513.79,499.76 L515.16,499.69 L516.52,499.62 L517.89,499.55 L519.25,499.49 L520.62,499.42 L521.99,499.35 L523.35,499.29 L524.72,499.22 L526.08,499.16 L527.44,499.09 L528.81,499.03 L530.17,498.96 L531.54,498.90 L532.90,498.84 L534.27,498.77 L535.63,498.71 L537.00,498.65 L538.37,498.58 L539.73,498.52 L541.10,498.46 L542.46,498.40 L543.83,498.34 L545.19,498.28 L546.56,498.22 L547.92,498.16 L549.29,498.10 L550.65,498.04 L552.01,497.98 L553.38,497.92 L554.75,497.86 L556.11,497.80 L557.48,497.74 L558.84,497.68 L560.20,497.63 L561.57,497.57 L562.93,497.51 L564.30,497.45 L565.66,497.40 L567.03,497.34 L568.39,497.28 L569.76,497.23 L571.12,497.17 L572.49,497.12 L573.86,497.06 L575.22,497.01 L576.59,496.95 L577.95,496.90 L579.32,496.84 L580.68,496.79 L582.05,496.74 L583.41,496.68 L584.78,496.63 L586.14,496.57 L587.50,496.52 L588.87,496.47 L590.24,496.42 L591.60,496.36 L592.96,496.31 L594.33,496.26 L595.69,496.21 L597.06,496.16 L598.42,496.10 L599.79,496.05 L601.15,496.00 L602.52,495.95 L603.88,495.90 L605.25,495.85 L606.62,495.80 L607.98,495.75 L609.35,495.70 L610.71,495.65 L612.08,495.60 L613.44,495.55 L614.81,495.50 L616.17,495.46 L617.54,495.41 L618.90,495.36 L620.26,495.31 L621.63,495.26 L623.00,495.21 L624.36,495.17 L625.73,495.12 L627.09,495.07 L628.46,495.02 L629.82,494.98 L631.18,494.93 L632.55,494.88 L633.91,494.84 L635.28,494.79 L636.64,494.74 L638.01,494.70 L639.38,494.65 L640.74,494.61 L642.11,494.56 L643.47,494.52 L644.84,494.47 L646.20,494.43 L647.57,494.38 L648.93,494.34 L650.30,494.29 L651.66,494.25 L653.03,494.20 L654.39,494.16 L655.76,494.11 L657.12,494.07 L658.49,494.03 L659.85,493.98 L661.21,493.94 L662.58,493.90 L663.94,493.85 L665.31,493.81 L666.67,493.77 L668.04,493.73 L669.40,493.68 L670.77,493.64 L672.13,493.60 L673.50,493.56 L674.87,493.51 L676.23,493.47 L677.60,493.43 L678.96,493.39 L680.33,493.35 L681.69,493.31 L683.06,493.26 L684.42,493.22 L685.78,493.18 L687.15,493.14 L688.51,493.10 L689.88,493.06 L691.25,493.02 L692.61,492.98 L693.98,492.94 L695.34,492.90 L696.70,492.86 L698.07,492.82 L699.43,492.78 L700.80,492.74 L702.16,492.70 L703.53,492.66 L704.89,492.62 L706.26,492.58 L707.62,492.55 L708.99,492.51 L710.36,492.47 L711.72,492.43 L713.09,492.39 L714.45,492.35 L715.82,492.31 L717.18,492.28 L718.55,492.24 L719.91,492.20 L721.28,492.16 L722.64,492.12 L724.01,492.09 L725.37,492.05 L726.74,492.01 L728.10,491.97 L729.47,491.94 L730.83,491.90 L732.20,491.86 L733.56,491.83 L734.92,491.79 L736.29,491.75 L737.65,491.72 L739.02,491.68 L740.38,491.64 L741.75,491.61 L743.12,491.57 L744.48,491.54 L745.85,491.50 L747.21,491.46 L748.58,491.43 L749.94,491.39 L751.30,491.36 L752.67,491.32 L754.03,491.29 L755.40,491.25 L756.76,491.22 L758.13,491.18 L759.50,491.15 L760.86,491.11 L762.22,491.08 L763.59,491.04 L764.95,491.01 L766.32,490.97 L767.68,490.94 L769.05,490.90 L770.41,490.87 L771.78,490.83 L773.14,490.80 L774.51,490.77 L775.88,490.73 L777.24,490.70 L778.61,490.67 L779.97,490.63 L781.34,490.60 L782.70,490.56 L784.07,490.53 L785.43,490.50 L786.79,490.46 L788.16,490.43 L789.52,490.40 L790.89,490.37 L792.25,490.33 L793.62,490.30 L794.99,490.27 L796.35,490.23 L797.72,490.20 L799.08,490.17 L800.45,490.14 L801.81,490.11 L803.18,490.07 L804.54,490.04 L805.90,490.01 L807.27,489.98 L808.63,489.95 L810.00,489.91 L811.37,489.88 L812.73,489.85 L814.10,489.82 L815.46,489.79 L816.83,489.76 L818.19,489.72 L819.56,489.69 L820.92,489.66 L822.29,489.63 L823.65,489.60 L825.02,489.57 L826.38,489.54 L827.75,489.51 L829.11,489.48 L830.48,489.45 L831.84,489.41 L833.21,489.38 L834.57,489.35 L835.93,489.32 L837.30,489.29 L838.66,489.26 L840.03,489.23 L841.39,489.20 L842.76,489.17 L844.12,489.14 L845.49,489.11 L846.86,489.08 L848.22,489.05 L849.59,489.02 L850.95,488.99 L852.31,488.96 L853.68,488.93 L855.04,488.91 L856.41,488.88 L857.77,488.85 L859.14,488.82 L860.50,488.79 L861.87,488.76 L863.24,488.73 L864.60,488.70 L865.97,488.67 L867.33,488.64 L868.70,488.61 L870.06,488.59 L871.42,488.56 L872.79,488.53 L874.15,488.50 L875.52,488.47 L876.88,488.44 L878.25,488.41 L879.62,488.39 L880.98,488.36 L882.35,488.33 L883.71,488.30 L885.08,488.27 L886.44,488.25 L887.81,488.22 L889.17,488.19 L890.54,488.16 L891.90,488.13 L893.26,488.11 L894.63,488.08 L896.00,488.05 L897.36,488.02 L898.73,488.00 L900.09,487.97 L901.46,487.94 L902.82,487.91 L904.19,487.89 L905.55,487.86 L906.92,487.83 L908.28,487.81 L909.65,487.78 L911.01,487.75 L912.38,487.73 L913.74,487.70 L915.11,487.67 L916.47,487.64 L917.84,487.62 L919.20,487.59 L920.56,487.56 L921.93,487.54 L923.29,487.51 L924.66,487.49 L926.02,487.46 L927.39,487.43 L928.75,487.41 L930.12,487.38 L931.49,487.35 L932.85,487.33 L934.22,487.30 L935.58,487.28 L936.94,487.25 L938.31,487.22 L939.67,487.20 L941.04,487.17 L942.40,487.15 L943.77,487.12 L945.13,487.10 L946.50,487.07 L947.87,487.04 L949.23,487.02 L950.60,486.99 L951.96,486.97 L953.33,486.94 L954.69,486.92 L956.06,486.89 L957.42,486.87 L958.78,486.84 L960.15,486.82 L961.51,486.79 L962.88,486.77 L964.25,486.74 L965.61,486.72 L966.98,486.69 L968.34,486.67 L969.71,486.64 L971.07,486.62 L972.44,486.59 L973.80,486.57 L975.17,486.54 L976.53,486.52 L977.89,486.50 L979.26,486.47 L980.62,486.45 L981.99,486.42 L983.36,486.40 L984.72,486.37 L986.09,486.35 L987.45,486.33 L988.82,486.30 L990.18,486.28 L991.55,486.25 L992.91,486.23 L994.28,486.21 L995.64,486.18 L997.00,486.16 L998.37,486.13 L999.74,486.11 L1001.10,486.09 L1002.47,486.06 L1003.83,486.04 L1005.20,486.02 L1006.56,485.99 L1007.93,485.97 L1009.29,485.94 L1010.66,485.92 L1012.02,485.90 L1013.39,485.87 L1014.75,485.85 L1016.12,485.83 L1017.48,485.80 L1018.85,485.78 L1020.21,485.76 L1021.58,485.74 L1022.94,485.71 L1024.31,485.69 L1025.67,485.67 L1027.04,485.64 L1028.40,485.62 L1029.77,485.60 L1031.13,485.57 L1032.50,485.55 L1033.86,485.53 L1035.22,485.51 L1036.59,485.48 L1037.95,485.46 L1039.32,485.44 L1040.68,485.42 L1042.05,485.39 L1043.41,485.37 L1044.78,485.35 L1046.14,485.33 L1047.51,485.30 L1048.88,485.28 L1050.24,485.26 L1051.61,485.24 L1052.97,485.21 L1054.34,485.19 L1055.70,485.17 L1057.07,485.15 L1058.43,485.13 L1059.80,485.10 L1061.16,485.08 L1062.53,485.06 L1063.89,485.04 L1065.26,485.02 L1066.62,484.99 L1067.98,484.97 L1069.35,484.95 L1070.71,484.93 L1072.08,484.91 L1073.44,484.89 L1074.81,484.86 L1076.17,484.84 L1077.54,484.82 L1078.90,484.80 L1080.27,484.78 L1081.63,484.76 L1083.00,484.74 L1084.37,484.71 L1085.73,484.69 L1087.10,484.67 L1088.46,484.65 L1089.82,484.63 L1091.19,484.61 L1092.55,484.59 L1093.92,484.57 L1095.28,484.54 L1096.65,484.52 L1098.01,484.50 L1099.38,484.48 L1100.74,484.46 L1102.11,484.44 L1103.47,484.42 L1104.84,484.40 L1106.20,484.38 L1107.57,484.36 L1108.93,484.34 L1110.30,484.31 L1111.66,484.29 L1113.03,484.27 L1114.39,484.25 L1115.76,484.23 L1117.12,484.21 L1118.49,484.19 L1119.86,484.17 L1121.22,484.15 L1122.59,484.13 L1123.95,484.11 L1125.32,484.09 L1126.68,484.07 L1128.05,484.05 L1129.41,484.03 L1130.78,484.01 L1132.14,483.99 L1133.51,483.97 L1134.87,483.95 L1136.24,483.93 L1137.60,483.91 L1138.97,483.89 L1140.33,483.87 L1141.70,483.85 L1143.06,483.83 L1144.43,483.81 L1145.79,483.79 L1147.15,483.77 L1148.52,483.75 L1149.88,483.73 L1151.25,483.71 L1152.62,483.69 L1153.98,483.67 L1155.35,483.65 L1156.71,483.63 L1158.08,483.61 L1159.44,483.59 L1160.81,483.57 L1162.17,483.55 L1163.54,483.53 L1164.90,483.51 L1166.27,483.49 L1167.63,483.47 L1168.99,483.45 L1170.36,483.43 L1171.72,483.41 L1173.09,483.39 L1174.45,483.38 L1175.82,483.36 L1177.18,483.34 L1178.55,483.32 L1179.91,483.30 L1181.28,483.28 L1182.64,483.26 L1184.01,483.24 L1185.38,483.22 L1186.74,483.20 L1188.11,483.18 L1189.47,483.16 L1190.84,483.15 L1192.20,483.13 L1193.57,483.11 L1194.93,483.09 L1196.30,483.07 L1197.66,483.05 L1199.03,483.03 L1200.39,483.01 L1201.76,482.99 L1203.12,482.98 L1204.49,482.96 L1205.85,482.94 L1207.22,482.92 L1208.58,482.90 L1209.95,482.88 L1211.31,482.86 L1212.68,482.85 L1214.04,482.83 L1215.41,482.81 L1216.77,482.79 L1218.14,482.77 L1219.50,482.75 L1220.87,482.74 L1222.23,482.72 L1223.60,482.70 L1224.96,482.68 L1226.32,482.66 L1227.69,482.64 L1229.05,482.63 L1230.42,482.61 L1231.78,482.59 L1233.15,482.57 L1234.51,482.55 L1235.88,482.53 L1237.24,482.52 L1238.61,482.50 L1239.97,482.48 L1241.34,482.46 L1242.70,482.44 L1244.07,482.43 L1245.43,482.41 L1246.80,482.39 L1248.16,482.37 L1249.53,482.35 L1250.89,482.34 L1252.26,482.32 L1253.62,482.30 L1254.99,482.28 L1256.36,482.27 L1257.72,482.25 L1259.09,482.23 L1260.45,482.21 L1261.82,482.19 L1263.18,482.18 L1264.55,482.16 L1265.91,482.14 L1267.28,482.12 L1268.64,482.11 L1270.01,482.09 L1271.37,482.07 L1272.74,482.05 L1274.10,482.04 L1275.47,482.02 L1276.83,482.00 L1278.19,481.98 L1279.56,481.97 L1280.92,481.95 L1282.29,481.93 L1283.65,481.92 L1285.02,481.90 L1286.38,481.88 L1287.75,481.86 L1289.12,481.85 L1290.48,481.83 L1291.85,481.81 L1293.21,481.80 L1294.58,481.78 L1295.94,481.76 L1297.31,481.74 L1298.67,481.73 L1300.04,481.71 L1301.40,481.69 L1302.77,481.68 L1304.13,481.66 L1305.50,481.64 L1306.86,481.63 L1308.22,481.61 L1309.59,481.59 L1310.95,481.57 L1312.32,481.56 L1313.68,481.54 L1315.05,481.52 L1316.41,481.51 L1317.78,481.49 L1319.14,481.47 L1320.51,481.46 L1321.88,481.44 L1323.24,481.42 L1324.61,481.41 L1325.97,481.39 L1327.34,481.37 L1328.70,481.36 L1330.07,481.34 L1331.43,481.32 L1332.80,481.31 L1334.16,481.29 L1335.53,481.28 L1336.89,481.26 L1338.26,481.24 L1339.62,481.23 L1340.99,481.21 L1342.35,481.19 L1343.72,481.18 L1345.08,481.16 L1346.45,481.14 L1347.81,481.13 L1349.17,481.11 L1350.54,481.10 L1351.90,481.08 L1353.27,481.06 L1354.63,481.05 L1356.00,481.03 L1357.37,481.01 L1358.73,481.00 L1360.10,480.98 L1361.46,480.97 L1362.83,480.95 L1364.19,480.93 L1365.56,480.92 L1366.92,480.90 L1368.29,480.89 L1369.65,480.87 L1371.02,480.85 L1372.38,480.84 L1373.75,480.82 L1375.11,480.81 L1376.48,480.79 L1377.84,480.77 L1379.21,480.76 L1380.57,480.74 L1381.94,480.73 L1383.30,480.71 L1384.67,480.70 L1386.03,480.68 L1387.39,480.66 L1388.76,480.65 L1390.12,480.63 L1391.49,480.62 L1392.86,480.60 L1394.22,480.59 L1395.59,480.57 L1396.95,480.55 L1398.32,480.54 L1399.68,480.52 L1401.05,480.51 L1402.41,480.49 L1403.77,480.48 L1405.14,480.46 L1406.50,480.45 L1407.87,480.43 L1409.23,480.41 L1410.60,480.40 L1411.96,480.38 L1413.33,480.37 L1414.69,480.35 L1416.06,480.34 L1417.42,480.32 L1418.79,480.31 L1420.15,480.29 L1421.52,480.28 L1422.88,480.26 L1424.25,480.25 L1425.62,480.23 L1426.98,480.22 L1428.35,480.20 L1429.71,480.19 L1431.08,480.17 L1432.44,480.16 L1433.81,480.14 L1435.17,480.13 L1436.54,480.11 L1437.90,480.10 L1439.26,480.08 L1440.63,480.06 L1441.99,480.05 L1443.36,480.03 L1444.72,480.02 L1446.09,480.00 L1447.45,479.99 L1448.82,479.98 L1450.18,479.96 L1451.55,479.95 L1452.91,479.93 L1454.28,479.92 L1455.64,479.90 L1457.01,479.89 L1458.38,479.87 L1459.74,479.86 L1461.11,479.84 L1462.47,479.83 L1463.84,479.81 L1465.20,479.80 L1466.57,479.78 L1467.93,479.77 L1469.30,479.75 L1470.66,479.74 L1472.03,479.72 L1473.39,479.71 L1474.76,479.69 L1476.12,479.68 L1477.49,479.67 L1478.85,479.65 L1480.21,479.64 L1481.58,479.62 L1482.94,479.61 L1484.31,479.59 L1485.67,479.58 L1487.04,479.56 L1488.40,479.55 L1489.77,479.53 L1491.13,479.52 L1492.50,479.51 L1493.87,479.49 L1495.23,479.48 L1496.60,479.46 L1497.96,479.45 L1499.33,479.43 L1500.69,479.42 L1502.06,479.41 L1503.42,479.39 L1504.79,479.38 L1506.15,479.36 L1507.52,479.35 L1508.88,479.33 L1510.25,479.32 L1511.61,479.31 L1512.98,479.29 L1514.34,479.28 L1515.71,479.26 L1517.07,479.25 L1518.43,479.24 L1519.80,479.22 L1521.16,479.21 L1522.53,479.19 L1523.89,479.18 L1525.26,479.16 L1526.62,479.15 L1527.99,479.14 L1529.36,479.12 L1530.72,479.11 L1532.09,479.09 L1533.45,479.08 L1534.82,479.07 L1536.18,479.05 L1537.55,479.04 L1538.91,479.03 L1540.28,479.01 L1541.64,479.00 L1543.01,478.98 L1544.37,478.97 L1545.74,478.96 L1547.10,478.94 L1548.47,478.93 L1549.83,478.91 L1551.20,478.90 L1552.56,478.89 L1553.93,478.87 L1555.29,478.86 L1556.66,478.85 L1558.02,478.83 L1559.38,478.82 L1560.75,478.80 L1562.12,478.79 L1563.48,478.78 L1564.85,478.76 L1566.21,478.75 L1567.58,478.74 L1568.94,478.72 L1570.31,478.71 L1571.67,478.70 L1573.04,478.68 L1574.40,478.67 L1575.76,478.66 L1577.13,478.64 L1578.49,478.63 L1579.86,478.61 L1581.22,478.60 L1582.59,478.59 L1583.95,478.57 L1585.32,478.56 L1586.68,478.55 L1588.05,478.53 L1589.41,478.52 L1590.78,478.51 L1592.14,478.49 L1593.51,478.48 L1594.88,478.47 L1596.24,478.45 L1597.61,478.44 L1598.97,478.43 L1600.34,478.41 L1601.70,478.40 L1603.07,478.39 L1604.43,478.37 L1605.80,478.36 L1607.16,478.35 L1608.53,478.34 L1609.89,478.32 L1611.25,478.31 L1612.62,478.30 L1613.98,478.28 L1615.35,478.27 L1616.71,478.26 L1618.08,478.24 L1619.44,478.23 L1620.81,478.22 L1622.17,478.20 L1623.54,478.19 L1624.90,478.18 L1626.27,478.16 L1627.63,478.15 L1629.00,478.14"/>
<path stroke="#6abae4" d="M264.00,810.88 L265.37,561.75 L266.73,545.29 L268.10,535.17 L269.46,527.75 L270.82,521.85 L272.19,516.95 L273.56,512.74 L274.92,509.04 L276.29,505.74 L277.65,502.76 L279.01,500.04 L280.38,497.53 L281.75,495.21 L283.11,493.04 L284.48,491.01 L285.84,489.10 L287.20,487.29 L288.57,485.58 L289.94,483.95 L291.30,482.40 L292.67,480.92 L294.03,479.50 L295.39,478.14 L296.76,476.83 L298.12,475.57 L299.49,474.35 L300.86,473.18 L302.22,472.04 L303.58,470.94 L304.95,469.88 L306.31,468.84 L307.68,467.84 L309.05,466.86 L310.41,465.91 L311.77,464.99 L313.14,464.09 L314.50,463.21 L315.87,462.35 L317.24,461.52 L318.60,460.70 L319.97,459.90 L321.33,459.12 L322.69,458.36 L324.06,457.61 L325.43,456.87 L326.79,456.15 L328.15,455.45 L329.52,454.76 L330.88,454.08 L332.25,453.41 L333.62,452.76 L334.98,452.12 L336.35,451.49 L337.71,450.87 L339.07,450.26 L340.44,449.65 L341.81,449.06 L343.17,448.48 L344.54,447.91 L345.90,447.35 L347.26,446.79 L348.63,446.25 L350.00,445.71 L351.36,445.18 L352.73,444.65 L354.09,444.14 L355.46,443.63 L356.82,443.12 L358.19,442.63 L359.55,442.14 L360.92,441.65 L362.28,441.18 L363.64,440.71 L365.01,440.24 L366.38,439.78 L367.74,439.33 L369.11,438.88 L370.47,438.44 L371.84,438.00 L373.20,437.57 L374.56,437.14 L375.93,436.71 L377.30,436.29 L378.66,435.88 L380.02,435.47 L381.39,435.06 L382.75,434.66 L384.12,434.27 L385.49,433.87 L386.85,433.48 L388.22,433.10 L389.58,432.72 L390.94,432.34 L392.31,431.97 L393.68,431.60 L395.04,431.23 L396.40,430.87 L397.77,430.51 L399.13,430.15 L400.50,429.80 L401.87,429.45 L403.23,429.10 L404.60,428.76 L405.96,428.41 L407.33,428.08 L408.69,427.74 L410.06,427.41 L411.42,427.08 L412.78,426.75 L414.15,426.43 L415.51,426.11 L416.88,425.79 L418.25,425.47 L419.61,425.16 L420.98,424.85 L422.34,424.54 L423.71,424.23 L425.07,423.93 L426.44,423.63 L427.80,423.33 L429.16,423.03 L430.53,422.74 L431.89,422.44 L433.26,422.15 L434.62,421.87 L435.99,421.58 L437.36,421.30 L438.72,421.01 L440.09,420.73 L441.45,420.46 L442.81,420.18 L444.18,419.90 L445.55,419.63 L446.91,419.36 L448.27,419.09 L449.64,418.83 L451.00,418.56 L452.37,418.30 L453.74,418.04 L455.10,417.78 L456.47,417.52 L457.83,417.26 L459.20,417.01 L460.56,416.75 L461.93,416.50 L463.29,416.25 L464.65,416.00 L466.02,415.75 L467.38,415.51 L468.75,415.26 L470.12,415.02 L471.48,414.78 L472.85,414.54 L474.21,414.30 L475.57,414.07 L476.94,413.83 L478.31,413.60 L479.67,413.36 L481.03,413.13 L482.40,412.90 L483.76,412.67 L485.13,412.44 L486.50,412.22 L487.86,411.99 L489.23,411.77 L490.59,411.55 L491.96,411.32 L493.32,411.10 L494.69,410.89 L496.05,410.67 L497.42,410.45 L498.78,410.24 L500.14,410.02 L501.51,409.81 L502.88,409.60 L504.24,409.38 L505.61,409.17 L506.97,408.97 L508.33,408.76 L509.70,408.55 L511.06,408.34 L512.43,408.14 L513.79,407.94 L515.16,407.73 L516.52,407.53 L517.89,407.33 L519.25,407.13 L520.62,406.93 L521.99,406.73 L523.35,406.54 L524.72,406.34 L526.08,406.15 L527.44,405.95 L528.81,405.76 L530.17,405.57 L531.54,405.38 L532.90,405.19 L534.27,405.00 L535.63,404.81 L537.00,404.62 L538.37,404.43 L539.73,404.25 L541.10,404.06 L542.46,403.88 L543.83,403.69 L545.19,403.51 L546.56,403.33 L547.92,403.15 L549.29,402.97 L550.65,402.79 L552.01,402.61 L553.38,402.43 L554.75,402.25 L556.11,402.07 L557.48,401.90 L558.84,401.72 L560.20,401.55 L561.57,401.37 L562.93,401.20 L564.30,401.03 L565.66,400.86 L567.03,400.69 L568.39,400.52 L569.76,400.35 L571.12,400.18 L572.49,400.01 L573.86,399.84 L575.22,399.68 L576.59,399.51 L577.95,399.34 L579.32,399.18 L580.68,399.02 L582.05,398.85 L583.41,398.69 L584.78,398.53 L586.14,398.36 L587.50,398.20 L588.87,398.04 L590.24,397.88 L591.60,397.72 L592.96,397.57 L594.33,397.41 L595.69,397.25 L597.06,397.09 L598.42,396.94 L599.79,396.78 L601.15,396.63 L602.52,396.47 L603.88,396.32 L605.25,396.16 L606.62,396.01 L607.98,395.86 L609.35,395.71 L610.71,395.56 L612.08,395.41 L613.44,395.26 L614.81,395.11 L616.17,394.96 L617.54,394.81 L618.90,394.66 L620.26,394.51 L621.63,394.37 L623.00,394.22 L624.36,394.07 L625.73,393.93 L627.09,393.78 L628.46,393.64 L629.82,393.50 L631.18,393.35 L632.55,393.21 L633.91,393.07 L635.28,392.92 L636.64,392.78 L638.01,392.64 L639.38,392.50 L640.74,392.36 L642.11,392.22 L643.47,392.08 L644.84,391.94 L646.20,391.80 L647.57,391.67 L648.93,391.53 L650.30,391.39 L651.66,391.26 L653.03,391.12 L654.39,390.98 L655.76,390.85 L657.12,390.71 L658.49,390.58 L659.85,390.44 L661.21,390.31 L662.58,390.18 L663.94,390.04 L665.31,389.91 L666.67,389.78 L668.04,389.65 L669.40,389.52 L670.77,389.39 L672.13,389.26 L673.50,389.13 L674.87,389.00 L676.23,388.87 L677.60,388.74 L678.96,388.61 L680.33,388.48 L681.69,388.36 L683.06,388.23 L684.42,388.10 L685.78,387.97 L687.15,387.85 L688.51,387.72 L689.88,387.60 L691.25,387.47 L692.61,387.35 L693.98,387.22 L695.34,387.10 L696.70,386.98 L698.07,386.85 L699.43,386.73 L700.80,386.61 L702.16,386.48 L703.53,386.36 L704.89,386.24 L706.26,386.12 L707.62,386.00 L708.99,385.88 L710.36,385.76 L711.72,385.64 L713.09,385.52 L714.45,385.40 L715.82,385.28 L717.18,385.16 L718.55,385.04 L719.91,384.93 L721.28,384.81 L722.64,384.69 L724.01,384.58 L725.37,384.46 L726.74,384.34 L728.10,384.23 L729.47,384.11 L730.83,384.00 L732.20,383.88 L733.56,383.77 L734.92,383.65 L736.29,383.54 L737.65,383.42 L739.02,383.31 L740.38,383.20 L741.75,383.08 L743.12,382.97 L744.48,382.86 L745.85,382.75 L747.21,382.63 L748.58,382.52 L749.94,382.41 L751.30,382.30 L752.67,382.19 L754.03,382.08 L755.40,381.97 L756.76,381.86 L758.13,381.75 L759.50,381.64 L760.86,381.53 L762.22,381.42 L763.59,381.31 L764.95,381.21 L766.32,381.10 L767.68,380.99 L769.05,380.88 L770.41,380.78 L771.78,380.67 L773.14,380.56 L774.51,380.46 L775.88,380.35 L777.24,380.24 L778.61,380.14 L779.97,380.03 L781.34,379.93 L782.70,379.82 L784.07,379.72 L785.43,379.61 L786.79,379.51 L788.16,379.41 L789.52,379.30 L790.89,379.20 L792.25,379.10 L793.62,378.99 L794.99,378.89 L796.35,378.79 L797.72,378.69 L799.08,378.58 L800.45,378.48 L801.81,378.38 L803.18,378.28 L804.54,378.18 L805.90,378.08 L807.27,377.98 L808.63,377.88 L810.00,377.78 L811.37,377.68 L812.73,377.58 L814.10,377.48 L815.46,377.38 L816.83,377.28 L818.19,377.18 L819.56,377.08 L820.92,376.99 L822.29,376.89 L823.65,376.79 L825.02,376.69 L826.38,376.59 L827.75,376.50 L829.11,376.40 L830.48,376.30 L831.84,376.21 L833.21,376.11 L834.57,376.01 L835.93,375.92 L837.30,375.82 L838.66,375.73 L840.03,375.63 L841.39,375.54 L842.76,375.44 L844.12,375.35 L845.49,375.25 L846.86,375.16 L848.22,375.06 L849.59,374.97 L850.95,374.88 L852.31,374.78 L853.68,374.69 L855.04,374.60 L856.41,374.50 L857.77,374.41 L859.14,374.32 L860.50,374.23 L861.87,374.13 L863.24,374.04 L864.60,373.95 L865.97,373.86 L867.33,373.77 L868.70,373.68 L870.06,373.59 L871.42,373.50 L872.79,373.40 L874.15,373.31 L875.52,373.22 L876.88,373.13 L878.25,373.04 L879.62,372.95 L880.98,372.86 L882.35,372.78 L883.71,372.69 L885.08,372.60 L886.44,372.51 L887.81,372.42 L889.17,372.33 L890.54,372.24 L891.90,372.15 L893.26,372.07 L894.63,371.98 L896.00,371.89 L897.36,371.80 L898.73,371.72 L900.09,371.63 L901.46,371.54 L902.82,371.46 L904.19,371.37 L905.55,371.28 L906.92,371.20 L908.28,371.11 L909.65,371.02 L911.01,370.94 L912.38,370.85 L913.74,370.77 L915.11,370.68 L916.47,370.60 L917.84,370.51 L919.20,370.43 L920.56,370.34 L921.93,370.26 L923.29,370.17 L924.66,370.09 L926.02,370.01 L927.39,369.92 L928.75,369.84 L930.12,369.76 L931.49,369.67 L932.85,369.59 L934.22,369.51 L935.58,369.42 L936.94,369.34 L938.31,369.26 L939.67,369.18 L941.04,369.09 L942.40,369.01 L943.77,368.93 L945.13,368.85 L946.50,368.77 L947.87,368.68 L949.23,368.60 L950.60,368.52 L951.96,368.44 L953.33,368.36 L954.69,368.28 L956.06,368.20 L957.42,368.12 L958.78,368.04 L960.15,367.96 L961.51,367.88 L962.88,367.80 L964.25,367.72 L965.61,367.64 L966.98,367.56 L968.34,367.48 L969.71,367.40 L971.07,367.32 L972.44,367.24 L973.80,367.16 L975.17,367.08 L976.53,367.00 L977.89,366.93 L979.26,366.85 L980.62,366.77 L981.99,366.69 L983.36,366.61 L984.72,366.54 L986.09,366.46 L987.45,366.38 L988.82,366.30 L990.18,366.23 L991.55,366.15 L992.91,366.07 L994.28,366.00 L995.64,365.92 L997.00,365.84 L998.37,365.77 L999.74,365.69 L1001.10,365.61 L1002.47,365.54 L1003.83,365.46 L1005.20,365.39 L1006.56,365.31 L1007.93,365.23 L1009.29,365.16 L1010.66,365.08 L1012.02,365.01 L1013.39,364.93 L1014.75,364.86 L1016.12,364.78 L1017.48,364.71 L1018.85,364.63 L1020.21,364.56 L1021.58,364.49 L1022.94,364.41 L1024.31,364.34 L1025.67,364.26 L1027.04,364.19 L1028.40,364.12 L1029.77,364.04 L1031.13,363.97 L1032.50,363.90 L1033.86,363.82 L1035.22,363.75 L1036.59,363.68 L1037.95,363.60 L1039.32,363.53 L1040.68,363.46 L1042.05,363.39 L1043.41,363.31 L1044.78,363.24 L1046.14,363.17 L1047.51,363.10 L1048.88,363.03 L1050.24,362.95 L1051.61,362.88 L1052.97,362.81 L1054.34,362.74 L1055.70,362.67 L1057.07,362.60 L1058.43,362.52 L1059.80,362.45 L1061.16,362.38 L1062.53,362.31 L1063.89,362.24 L1065.26,362.17 L1066.62,362.10 L1067.98,362.03 L1069.35,361.96 L1070.71,361.89 L1072.08,361.82 L1073.44,361.75 L1074.81,361.68 L1076.17,361.61 L1077.54,361.54 L1078.90,361.47 L1080.27,361.40 L1081.63,361.33 L1083.00,361.26 L1084.37,361.19 L1085.73,361.12 L1087.10,361.06 L1088.46,360.99 L1089.82,360.92 L1091.19,360.85 L1092.55,360.78 L1093.92,360.71 L1095.28,360.64 L1096.65,360.58 L1098.01,360.51 L1099.38,360.44 L1100.74,360.37 L1102.11,360.30 L1103.47,360.24 L1104.84,360.17 L1106.20,360.10 L1107.57,360.03 L1108.93,359.97 L1110.30,359.90 L1111.66,359.83 L1113.03,359.77 L1114.39,359.70 L1115.76,359.63 L1117.12,359.57 L1118.49,359.50 L1119.86,359.43 L1121.22,359.37 L1122.59,359.30 L1123.95,359.23 L1125.32,359.17 L1126.68,359.10 L1128.05,359.04 L1129.41,358.97 L1130.78,358.90 L1132.14,358.84 L1133.51,358.77 L1134.87,358.71 L1136.24,358.64 L1137.60,358.58 L1138.97,358.51 L1140.33,358.45 L1141.70,358.38 L1143.06,358.32 L1144.43,358.25 L1145.79,358.19 L1147.15,358.12 L1148.52,358.06 L1149.88,357.99 L1151.25,357.93 L1152.62,357.86 L1153.98,357.80 L1155.35,357.74 L1156.71,357.67 L1158.08,357.61 L1159.44,357.54 L1160.81,357.48 L1162.17,357.42 L1163.54,357.35 L1164.90,357.29 L1166.27,357.23 L1167.63,357.16 L1168.99,357.10 L1170.36,357.04 L1171.72,356.97 L1173.09,356.91 L1174.45,356.85 L1175.82,356.78 L1177.18,356.72 L1178.55,356.66 L1179.91,356.60 L1181.28,356.53 L1182.64,356.47 L1184.01,356.41 L1185.38,356.35 L1186.74,356.29 L1188.11,356.22 L1189.47,356.16 L1190.84,356.10 L1192.20,356.04 L1193.57,355.98 L1194.93,355.91 L1196.30,355.85 L1197.66,355.79 L1199.03,355.73 L1200.39,355.67 L1201.76,355.61 L1203.12,355.55 L1204.49,355.49 L1205.85,355.42 L1207.22,355.36 L1208.58,355.30 L1209.95,355.24 L1211.31,355.18 L1212.68,355.12 L1214.04,355.06 L1215.41,355.00 L1216.77,354.94 L1218.14,354.88 L1219.50,354.82 L1220.87,354.76 L1222.23,354.70 L1223.60,354.64 L1224.96,354.58 L1226.32,354.52 L1227.69,354.46 L1229.05,354.40 L1230.42,354.34 L1231.78,354.28 L1233.15,354.22 L1234.51,354.16 L1235.88,354.10 L1237.24,354.04 L1238.61,353.99 L1239.97,353.93 L1241.34,353.87 L1242.70,353.81 L1244.07,353.75 L1245.43,353.69 L1246.80,353.63 L1248.16,353.57 L1249.53,353.52 L1250.89,353.46 L1252.26,353.40 L1253.62,353.34 L1254.99,353.28 L1256.36,353.22 L1257.72,353.17 L1259.09,353.11 L1260.45,353.05 L1261.82,352.99 L1263.18,352.93 L1264.55,352.88 L1265.91,352.82 L1267.28,352.76 L1268.64,352.70 L1270.01,352.65 L1271.37,352.59 L1272.74,352.53 L1274.10,352.47 L1275.47,352.42 L1276.83,352.36 L1278.19,352.30 L1279.56,352.25 L1280.92,352.19 L1282.29,352.13 L1283.65,352.08 L1285.02,352.02 L1286.38,351.96 L1287.75,351.91 L1289.12,351.85 L1290.48,351.79 L1291.85,351.74 L1293.21,351.68 L1294.58,351.62 L1295.94,351.57 L1297.31,351.51 L1298.67,351.46 L1300.04,351.40 L1301.40,351.34 L1302.77,351.29 L1304.13,351.23 L1305.50,351.18 L1306.86,351.12 L1308.22,351.07 L1309.59,351.01 L1310.95,350.96 L1312.32,350.90 L1313.68,350.85 L1315.05,350.79 L1316.41,350.73 L1317.78,350.68 L1319.14,350.62 L1320.51,350.57 L1321.88,350.51 L1323.24,350.46 L1324.61,350.41 L1325.97,350.35 L1327.34,350.30 L1328.70,350.24 L1330.07,350.19 L1331.43,350.13 L1332.80,350.08 L1334.16,350.02 L1335.53,349.97 L1336.89,349.92 L1338.26,349.86 L1339.62,349.81 L1340.99,349.75 L1342.35,349.70 L1343.72,349.65 L1345.08,349.59 L1346.45,349.54 L1347.81,349.48 L1349.17,349.43 L1350.54,349.38 L1351.90,349.32 L1353.27,349.27 L1354.63,349.22 L1356.00,349.16 L1357.37,349.11 L1358.73,349.06 L1360.10,349.00 L1361.46,348.95 L1362.83,348.90 L1364.19,348.85 L1365.56,348.79 L1366.92,348.74 L1368.29,348.69 L1369.65,348.63 L1371.02,348.58 L1372.38,348.53 L1373.75,348.48 L1375.11,348.42 L1376.48,348.37 L1377.84,348.32 L1379.21,348.27 L1380.57,348.21 L1381.94,348.16 L1383.30,348.11 L1384.67,348.06 L1386.03,348.01 L1387.39,347.95 L1388.76,347.90 L1390.12,347.85 L1391.49,347.80 L1392.86,347.75 L1394.22,347.70 L1395.59,347.64 L1396.95,347.59 L1398.32,347.54 L1399.68,347.49 L1401.05,347.44 L1402.41,347.39 L1403.77,347.34 L1405.14,347.28 L1406.50,347.23 L1407.87,347.18 L1409.23,347.13 L1410.60,347.08 L1411.96,347.03 L1413.33,346.98 L1414.69,346.93 L1416.06,346.88 L1417.42,346.83 L1418.79,346.78 L1420.15,346.72 L1421.52,346.67 L1422.88,346.62 L1424.25,346.57 L1425.62,346.52 L1426.98,346.47 L1428.35,346.42 L1429.71,346.37 L1431.08,346.32 L1432.44,346.27 L1433.81,346.22 L1435.17,346.17 L1436.54,346.12 L1437.90,346.07 L1439.26,346.02 L1440.63,345.97 L1441.99,345.92 L1443.36,345.87 L1444.72,345.82 L1446.09,345.77 L1447.45,345.72 L1448.82,345.67 L1450.18,345.62 L1451.55,345.58 L1452.91,345.53 L1454.28,345.48 L1455.64,345.43 L1457.01,345.38 L1458.38,345.33 L1459.74,345.28 L1461.11,345.23 L1462.47,345.18 L1463.84,345.13 L1465.20,345.08 L1466.57,345.04 L1467.93,344.99 L1469.30,344.94 L1470.66,344.89 L1472.03,344.84 L1473.39,344.79 L1474.76,344.74 L1476.12,344.69 L1477.49,344.65 L1478.85,344.60 L1480.21,344.55 L1481.58,344.50 L1482.94,344.45 L1484.31,344.41 L1485.67,344.36 L1487.04,344.31 L1488.40,344.26 L1489.77,344.21 L1491.13,344.16 L1492.50,344.12 L1493.87,344.07 L1495.23,344.02 L1496.60,343.97 L1497.96,343.93 L1499.33,343.88 L1500.69,343.83 L1502.06,343.78 L1503.42,343.74 L1504.79,343.69 L1506.15,343.64 L1507.52,343.59 L1508.88,343.55 L1510.25,343.50 L1511.61,343.45 L1512.98,343.40 L1514.34,343.36 L1515.71,343.31 L1517.07,343.26 L1518.43,343.22 L1519.80,343.17 L1521.16,343.12 L1522.53,343.08 L1523.89,343.03 L1525.26,342.98 L1526.62,342.94 L1527.99,342.89 L1529.36,342.84 L1530.72,342.80 L1532.09,342.75 L1533.45,342.70 L1534.82,342.66 L1536.18,342.61 L1537.55,342.56 L1538.91,342.52 L1540.28,342.47 L1541.64,342.42 L1543.01,342.38 L1544.37,342.33 L1545.74,342.29 L1547.10,342.24 L1548.47,342.19 L1549.83,342.15 L1551.20,342.10 L1552.56,342.06 L1553.93,342.01 L1555.29,341.96 L1556.66,341.92 L1558.02,341.87 L1559.38,341.83 L1560.75,341.78 L1562.12,341.74 L1563.48,341.69 L1564.85,341.65 L1566.21,341.60 L1567.58,341.55 L1568.94,341.51 L1570.31,341.46 L1571.67,341.42 L1573.04,341.37 L1574.40,341.33 L1575.76,341.28 L1577.13,341.24 L1578.49,341.19 L1579.86,341.15 L1581.22,341.10 L1582.59,341.06 L1583.95,341.01 L1585.32,340.97 L1586.68,340.92 L1588.05,340.88 L1589.41,340.83 L1590.78,340.79 L1592.14,340.74 L1593.51,340.70 L1594.88,340.66 L1596.24,340.61 L1597.61,340.57 L1598.97,340.52 L1600.34,340.48 L1601.70,340.43 L1603.07,340.39 L1604.43,340.35 L1605.80,340.30 L1607.16,340.26 L1608.53,340.21 L1609.89,340.17 L1611.25,340.12 L1612.62,340.08 L1613.98,340.04 L1615.35,339.99 L1616.71,339.95 L1618.08,339.91 L1619.44,339.86 L1620.81,339.82 L1622.17,339.77 L1623.54,339.73 L1624.90,339.69 L1626.27,339.64 L1627.63,339.60 L1629.00,339.56"/>
</g>
<g fill="#262626" font-size="59.4px">
<text transform="translate(243.0,1132.20) scale(1,1.036)" text-anchor="end">0</text>
<text transform="translate(243.0,956.33) scale(1,1.036)" text-anchor="end">500</text>
<text transform="translate(239.6,780.47) scale(1,1.036)" text-anchor="end" dx="3.4 -3.4">1000</text>
<text transform="translate(239.6,604.60) scale(1,1.036)" text-anchor="end" dx="3.4 -3.4">1500</text>
<text transform="translate(243.0,428.73) scale(1,1.036)" text-anchor="end">2000</text>
<text transform="translate(243.0,252.87) scale(1,1.036)" text-anchor="end">2500</text>
<text transform="translate(243.0,77.00) scale(1,1.036)" text-anchor="end">3000</text>
<text transform="translate(263.00,1190.6) scale(1,1.036)" text-anchor="middle">0</text>
<text transform="translate(536.00,1190.6) scale(1,1.036)" text-anchor="middle">0.2</text>
<text transform="translate(809.00,1190.6) scale(1,1.036)" text-anchor="middle">0.4</text>
<text transform="translate(1082.00,1190.6) scale(1,1.036)" text-anchor="middle">0.6</text>
<text transform="translate(1355.00,1190.6) scale(1,1.036)" text-anchor="middle">0.8</text>
<text transform="translate(1631.40,1190.6) scale(1,1.036)" text-anchor="middle">1</text>
</g>
<g fill="#ffffff">
<rect x="116.4" y="599.5" width="12.67" height="6"/>
<rect x="134.34" y="599.5" width="12" height="6"/>
<rect x="116.4" y="774.5" width="12.67" height="6"/>
<rect x="134.34" y="774.5" width="12" height="6"/>
<rect x="1617.4" y="1185.5" width="12.42" height="6"/>
<rect x="1635.0900000000001" y="1185.5" width="12" height="6"/>
</g>
<text x="946.5" y="1275.3" font-size="65.3px" fill="#262626" text-anchor="middle">Equivalent Plasitc Strain [mm/mm]</text>
<text transform="translate(82.5,581.5) rotate(-90)" font-size="65.3px" fill="#262626" text-anchor="middle">Equivalent Stress [MPa]</text>
<rect x="78.9" y="228" width="0.8" height="705" fill="#ffffff"/>
<rect x="548.5" y="641.4" width="1047.50" height="432.50" fill="#ffffff" stroke="#2b2728" stroke-width="2.0"/>
<g font-size="53.4px" fill="#000000">
<line x1="561.5" y1="682.40" x2="688.3" y2="682.40" stroke="#386cb8" stroke-width="8.65"/>
<text x="697.7" y="704.10">Ramor 500 (3 mm) - Scazzosi et al.</text>
<line x1="561.5" y1="752.55" x2="688.3" y2="752.55" stroke="#d04526" stroke-width="8.65"/>
<text x="697.7" y="774.25">Ramor 500 (6.5 mm) - Scazzosi et al.</text>
<line x1="561.5" y1="822.70" x2="688.3" y2="822.70" stroke="#e0a824" stroke-width="8.65"/>
<text x="697.7" y="844.40">Armox 560T - Borvik et al.</text>
<line x1="561.5" y1="892.85" x2="688.3" y2="892.85" stroke="#762682" stroke-width="8.65"/>
<text x="697.7" y="914.55">Armox 500T - Iqbal et al.</text>
<line x1="561.5" y1="963.00" x2="688.3" y2="963.00" stroke="#6aab2d" stroke-width="8.65"/>
<text x="697.7" y="984.70">Armox 500T - Saleh et al.</text>
<line x1="561.5" y1="1033.15" x2="688.3" y2="1033.15" stroke="#6abae4" stroke-width="8.65"/>
<text x="697.7" y="1054.85">Armox 500T Nilsson</text>
</g>
</svg></body></html>
